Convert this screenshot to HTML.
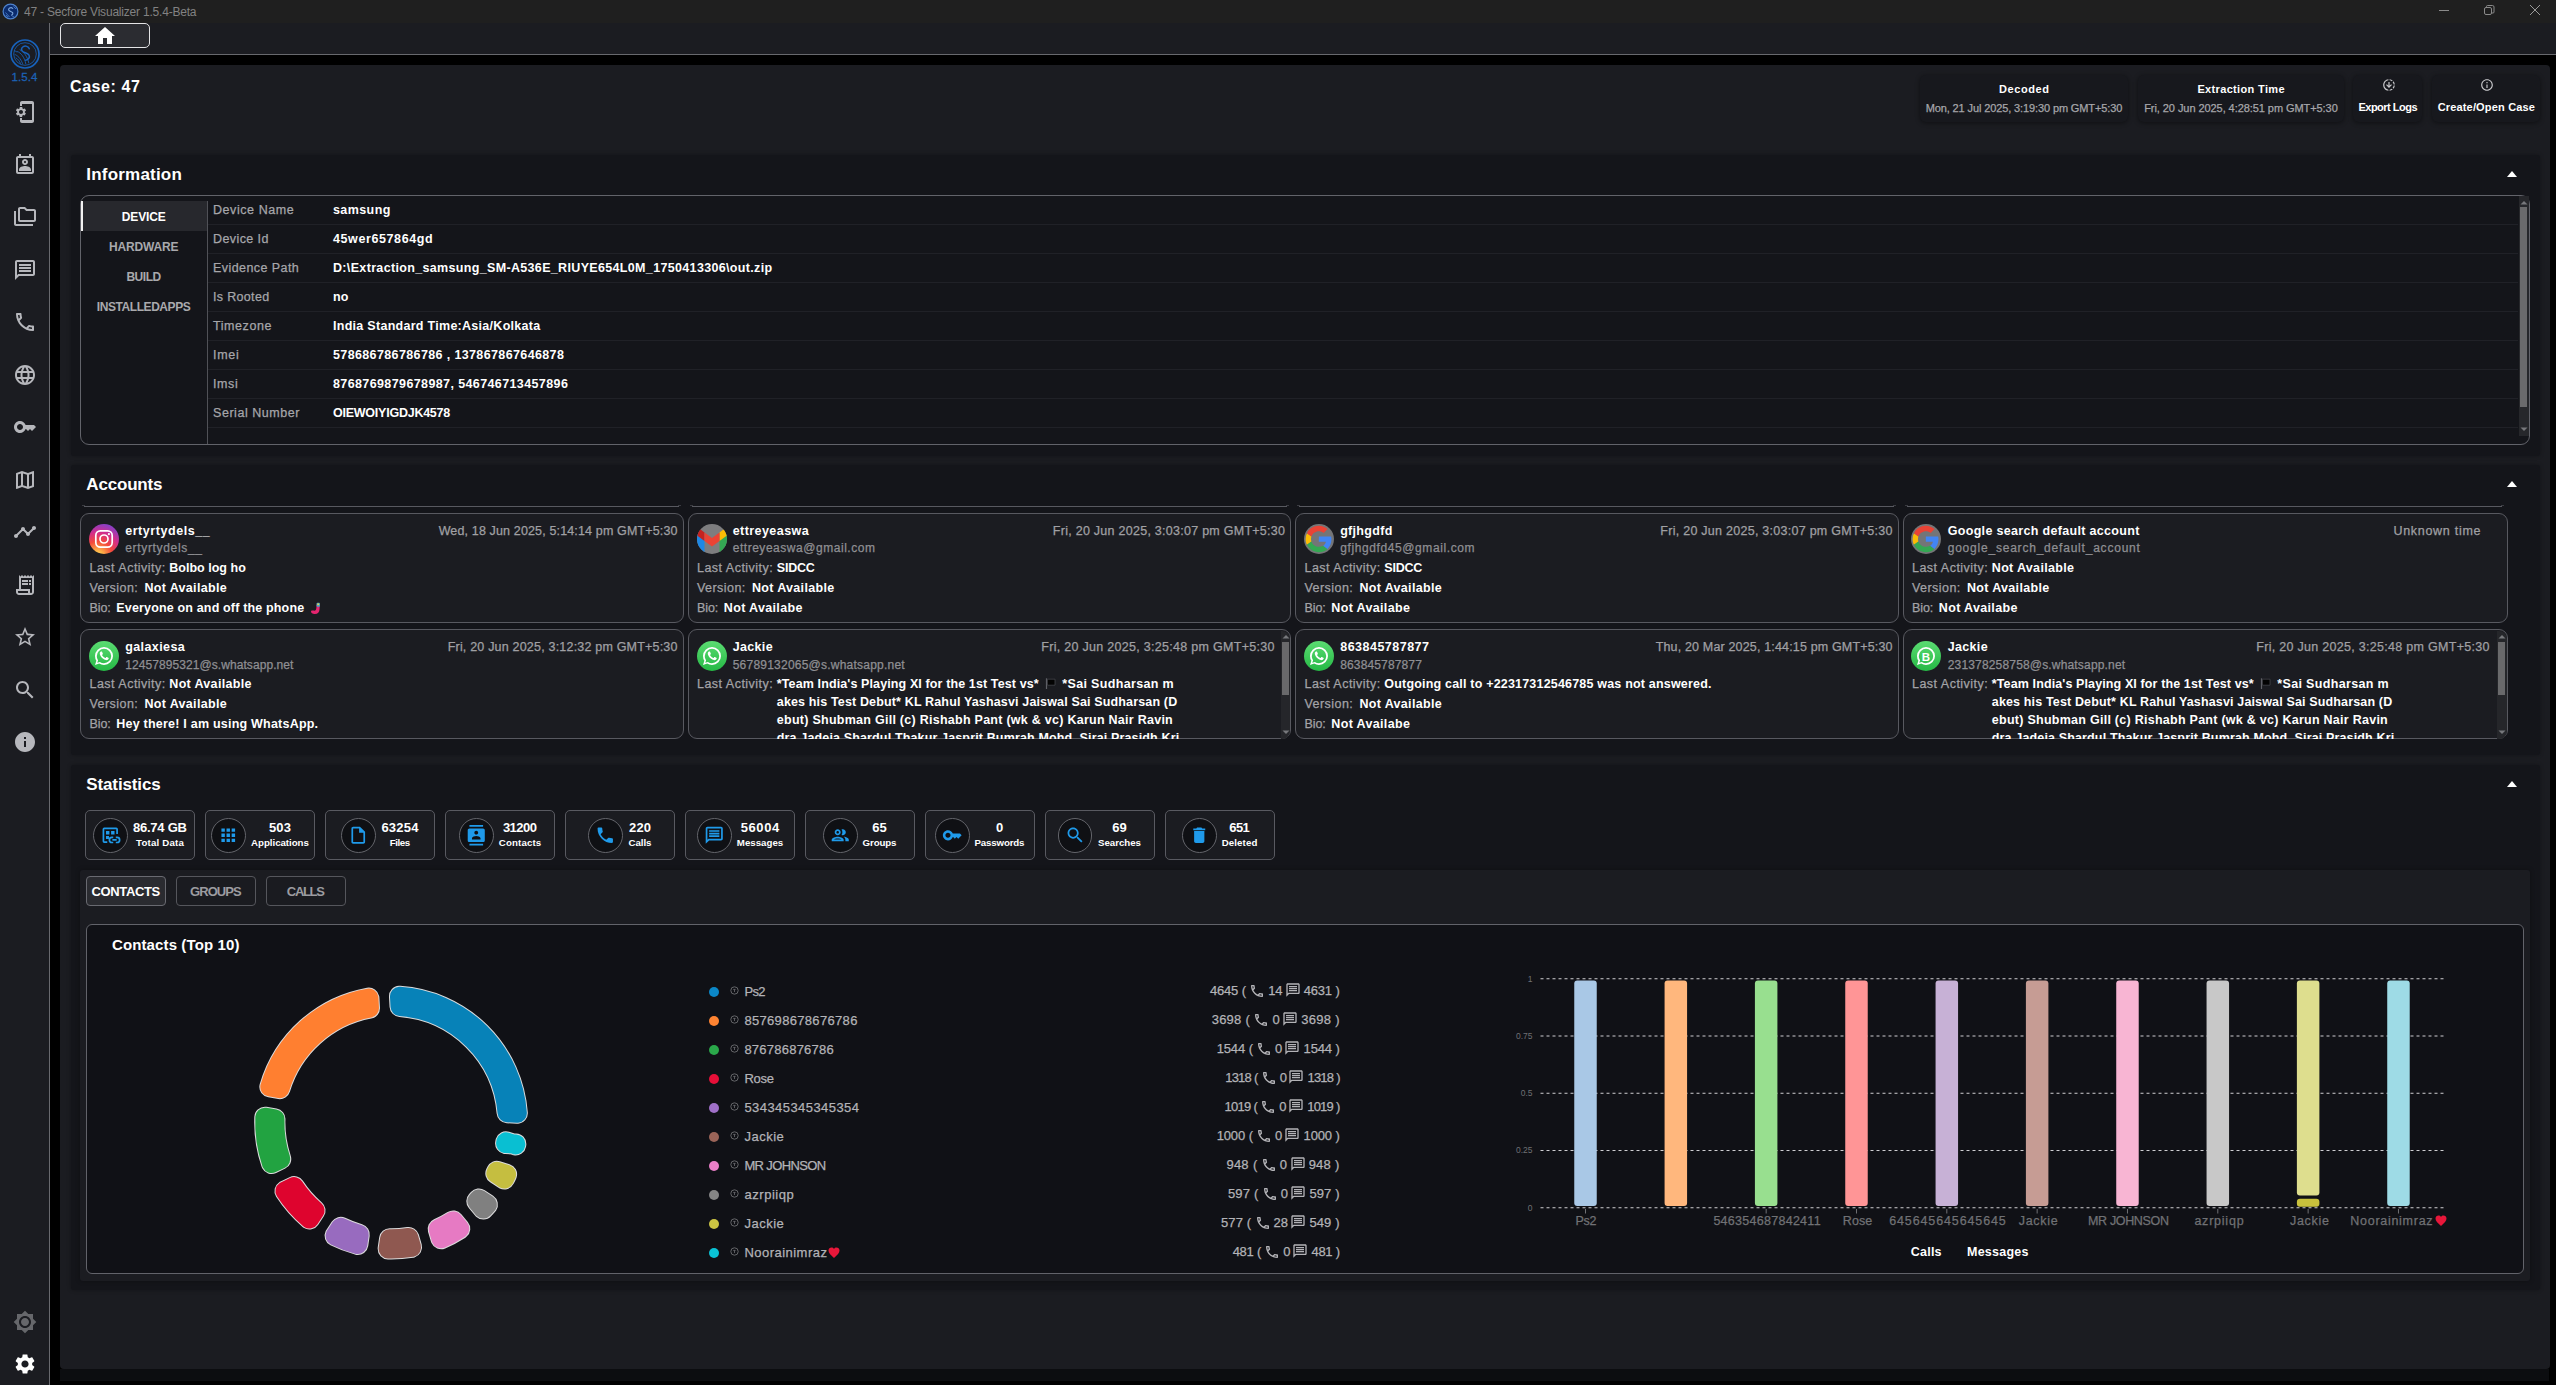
<!DOCTYPE html>
<html lang="en"><head><meta charset="utf-8"><title>47 - Secfore Visualizer 1.5.4-Beta</title>
<style>
html,body{margin:0;padding:0;background:#000;}
body{width:2556px;height:1385px;position:relative;overflow:hidden;font-family:"Liberation Sans", sans-serif;}
.a{position:absolute;box-sizing:border-box;display:block;}
.t{position:absolute;white-space:pre;line-height:1;margin:0;padding:0;font-weight:400;}

</style></head><body>
<header aria-label="Title bar">
<div class="a" style="left:0px;top:0px;width:2556px;height:23px;background:#1f1f1f;"></div>
<svg class="a" style="left:2px;top:2.5px;" width="17" height="17" viewBox="0 0 17 17"><circle cx="8.500" cy="8.500" r="7.400" fill="#0b2c6e" stroke="#4f83cc" stroke-width="1.200"/><path d="M11 5.800C10.300 4.700 8.700 4.400 7.600 5 6.500 5.600 6.300 6.900 7.200 7.700 8.100 8.500 9.900 8.500 10.600 9.600 11.300 10.700 10.400 12.100 9 12.200" fill="none" stroke="#7fa8dc" stroke-width="1.100"/><path d="M3.500 9.500l4 4.500M4 12l2 2.200M11.500 3.500l2.500 2.500M10 12.800l2 1.200" stroke="#4f83cc" stroke-width=".8"/></svg>
<span class="t" style="left:24.00px;top:5.84px;font-size:12px;color:#828282;-webkit-text-stroke:.25px #828282;letter-spacing:-0.203px;-webkit-text-stroke:0;">47 - Secfore Visualizer 1.5.4-Beta</span>
<div class="a" style="left:2439px;top:10px;width:10px;height:1px;background:#8a8a8a;"></div>
<svg class="a" style="left:2483px;top:4px;" width="12" height="12" viewBox="0 0 12 12"><rect x="1.500" y="3.500" width="7" height="7" rx="1.500" fill="none" stroke="#8a8a8a" stroke-width="1"/><path d="M3.500 3.500V2.500a1 1 0 0 1 1-1H9.500a1.500 1.500 0 0 1 1.500 1.500V8a1 1 0 0 1-1 1H8.500" fill="none" stroke="#8a8a8a" stroke-width="1"/></svg>
<svg class="a" style="left:2529px;top:4px;" width="12" height="12" viewBox="0 0 12 12"><path d="M1 1L11 11M11 1L1 11" stroke="#9a9a9a" stroke-width="1" fill="none"/></svg>
</header>
<nav aria-label="Sidebar and toolbar">
<div class="a" style="left:0px;top:23px;width:50px;height:1362px;background:#1b1c21;border-right:1px solid #68696e;"></div>
<div class="a" style="left:50px;top:23px;width:2506px;height:32px;background:#1b1c21;border-bottom:1px solid #68696e;"></div>
<div class="a" style="left:60px;top:23px;width:90px;height:25px;background:#2b2c31;border:1px solid #e4e4e6;border-radius:5px;"></div>
<svg class="a" style="left:93.00px;top:24.00px;" width="24" height="24" viewBox="0 0 24 24"><path fill="#fff" d="M10 20v-6h4v6h5v-8h3L12 3 2 12h3v8z"/></svg>
<svg class="a" style="left:8px;top:37px;" width="34" height="34" viewBox="0 0 34 34"><circle cx="17" cy="17" r="14" fill="none" stroke="#1862bb" stroke-width="1.700"/>
<circle cx="17" cy="17" r="11.300" fill="none" stroke="#1862bb" stroke-width=".8"/>
<path d="M21.300 11.800C20.400 9.300 17.400 8.500 15.300 9.600 13.300 10.700 12.900 13.100 14.700 14.500 16.500 15.900 19.800 16 21 18.100 22.200 20.200 20.500 23 17.600 23.200" fill="none" stroke="#1862bb" stroke-width="1.500" stroke-linecap="round"/>
<path d="M7 17.500C9.500 18.500 12.500 21 14.500 26.500M8 21C10 22 11.500 24 12.500 26.500M9.500 14.500C13 16 16.500 20 17.800 26.800M12 12.800C16 15 19.500 19.500 20.800 26M6.500 13.800C7.500 14 8.500 14.500 9 15" stroke="#1862bb" stroke-width=".85" fill="none" stroke-linecap="round"/></svg>
<span class="t" style="left:11.54px;top:72.07px;font-size:11.5px;color:#1c62b6;-webkit-text-stroke:.25px #1c62b6;letter-spacing:0.084px;-webkit-text-stroke:.3px #1c62b6;">1.5.4</span>
<svg class="a" style="left:12.50px;top:100.00px;" width="24" height="24" viewBox="0 0 24 24"><path fill="#b6b7bc" d="M11.8 12.5v-1l1.1-.8c.1-.1.1-.2.1-.3l-1-1.7c-.1-.1-.2-.2-.3-.1l-1.3.4c-.3-.2-.6-.4-.9-.5l-.2-1.3c0-.1-.1-.2-.3-.2H7c-.1 0-.2.1-.3.2l-.2 1.3c-.3.1-.6.3-.9.5l-1.3-.5c-.1 0-.2 0-.3.1l-1 1.7c-.1.1 0 .2.1.3l1.100.8v1l-1.100.8c-.1.2-.1.3-.1.4l1 1.7c.1.1.2.1.3.1l1.200-.5c.3.2.6.4.9.5l.2 1.300c.1.1.2.2.3.2h2c.1 0 .2-.1.3-.2l.2-1.300c.3-.1.6-.3.9-.5l1.200.5c.1 0 .2 0 .3-.1l1-1.700c.1-.1.1-.2 0-.3l-1.100-.8zM8 14c-1.100 0-2-.9-2-2s.9-2 2-2 2 .9 2 2-.9 2-2 2zM19 1H9c-1.100 0-2 .9-2 2v3h2V4h10v16H9v-2H7v3c0 1.100.9 2 2 2h10c1.100 0 2-.9 2-2V3c0-1.100-.9-2-2-2z"/></svg>
<svg class="a" style="left:12.50px;top:152.60px;" width="24" height="24" viewBox="0 0 24 24"><path fill="#b6b7bc" d="M19 3h-1V1h-2v2H8V1H6v2H5c-1.1 0-2 .9-2 2v14c0 1.1.9 2 2 2h14c1.1 0 2-.9 2-2V5c0-1.1-.9-2-2-2zm0 16H5V5h14v14zM12 12c1.650 0 3-1.350 3-3s-1.350-3-3-3-3 1.350-3 3 1.350 3 3 3zm0-4c.55 0 1 .45 1 1s-.45 1-1 1-1-.45-1-1 .45-1 1-1zm6 8.580c0-2.500-3.970-3.580-6-3.580s-6 1.080-6 3.580V18h12v-1.420z"/></svg>
<svg class="a" style="left:12.50px;top:204.80px;" width="24" height="24" viewBox="0 0 24 24"><path fill="#b6b7bc" d="M3 19h17v2H3c-1.1 0-2-.9-2-2V6h2v13zM23 6v9c0 1.1-.9 2-2 2H7c-1.1 0-2-.9-2-2l.01-11c0-1.1.89-2 1.990-2h5l2 2h7c1.100 0 2 .9 2 2zM7 15h14V6h-7.830l-2-2H7v11z"/></svg>
<svg class="a" style="left:12.50px;top:257.60px;" width="24" height="24" viewBox="0 0 24 24"><path fill="#b6b7bc" d="M4 4h16v12H5.170L4 17.170V4m0-2c-1.100 0-1.990.9-1.990 2L2 22l4-4h14c1.100 0 2-.9 2-2V4c0-1.100-.9-2-2-2H4zm2 10h12v2H6v-2zm0-3h12v2H6V9zm0-3h12v2H6V6z"/></svg>
<svg class="a" style="left:12.50px;top:310.00px;" width="24" height="24" viewBox="0 0 24 24"><path fill="#b6b7bc" d="M6.540 5c.06.890.210 1.760.450 2.590l-1.200 1.200c-.410-1.200-.670-2.470-.760-3.790h1.510m9.860 12.020c.850.240 1.720.390 2.600.450v1.490c-1.320-.09-2.590-.350-3.800-.750l1.200-1.190M7.500 3H4c-.55 0-1 .45-1 1 0 9.390 7.610 17 17 17 .55 0 1-.45 1-1v-3.490c0-.55-.45-1-1-1-1.240 0-2.450-.2-3.570-.57-.1-.04-.21-.05-.31-.05-.26 0-.51.1-.71.29l-2.200 2.200c-2.830-1.450-5.150-3.760-6.590-6.590l2.200-2.200c.28-.28.36-.67.25-1.020C8.700 6.450 8.500 5.250 8.500 4c0-.55-.45-1-1-1z"/></svg>
<svg class="a" style="left:12.50px;top:363.00px;" width="24" height="24" viewBox="0 0 24 24"><path fill="#b6b7bc" d="M11.990 2C6.470 2 2 6.480 2 12s4.470 10 9.990 10C17.520 22 22 17.520 22 12S17.520 2 11.990 2zm6.930 6h-2.950c-.32-1.250-.78-2.450-1.380-3.560 1.840.63 3.370 1.910 4.330 3.560zM12 4.040c.83 1.200 1.480 2.530 1.910 3.960h-3.820c.43-1.430 1.080-2.760 1.910-3.960zM4.260 14C4.100 13.360 4 12.690 4 12s.1-1.360.26-2h3.380c-.08.66-.14 1.320-.14 2 0 .68.06 1.340.14 2H4.260zm.82 2h2.950c.32 1.250.78 2.450 1.380 3.560-1.840-.63-3.370-1.900-4.330-3.560zm2.950-8H5.080c.96-1.660 2.490-2.930 4.330-3.560C8.810 5.550 8.350 6.750 8.030 8zM12 19.960c-.83-1.200-1.480-2.530-1.910-3.960h3.820c-.43 1.430-1.080 2.760-1.910 3.960zM14.340 14H9.660c-.09-.66-.16-1.320-.16-2 0-.68.07-1.350.16-2h4.680c.09.65.16 1.320.16 2 0 .68-.07 1.340-.16 2zm.25 5.560c.6-1.110 1.060-2.310 1.380-3.560h2.950c-.96 1.650-2.490 2.930-4.330 3.560zM16.360 14c.08-.66.14-1.320.14-2 0-.68-.06-1.340-.14-2h3.380c.16.64.26 1.310.26 2s-.1 1.360-.26 2h-3.380z"/></svg>
<svg class="a" style="left:12.50px;top:415.00px;" width="24" height="24" viewBox="0 0 24 24"><path fill="#b6b7bc" d="M21 10h-8.350C11.830 7.670 9.610 6 7 6c-3.310 0-6 2.690-6 6s2.690 6 6 6c2.610 0 4.830-1.670 5.650-4H13l2 2 2-2 2 2 4-4.040L21 10zM7 15c-1.650 0-3-1.350-3-3s1.350-3 3-3 3 1.350 3 3-1.350 3-3 3z"/></svg>
<svg class="a" style="left:12.50px;top:468.00px;" width="24" height="24" viewBox="0 0 24 24"><path fill="#b6b7bc" d="M20.500 3l-.160.030L15 5.100 9 3 3.360 4.900c-.21.07-.36.25-.36.480V20.500c0 .280.220.5.5.5l.160-.030L9 18.900l6 2.100 5.640-1.900c.21-.07.36-.25.36-.480V3.500c0-.280-.220-.5-.5-.5zM10 5.470l4 1.400v11.660l-4-1.400V5.470zm-5 .990l3-1.010v11.700l-3 1.160V6.460zm14 11.080l-3 1.010V6.860l3-1.160v11.840z"/></svg>
<svg class="a" style="left:12.50px;top:519.60px;" width="24" height="24" viewBox="0 0 24 24"><path fill="#b6b7bc" d="M23 8c0 1.100-.9 2-2 2-.18 0-.35-.02-.51-.07l-3.560 3.550c.05.16.07.34.07.52 0 1.100-.9 2-2 2s-2-.9-2-2c0-.18.02-.36.07-.52l-2.550-2.550c-.16.05-.34.07-.52.07s-.36-.02-.52-.07l-4.550 4.560c.05.160.07.330.07.510 0 1.100-.9 2-2 2s-2-.9-2-2 .9-2 2-2c.18 0 .35.02.51.07l4.560-4.550C8.020 9.360 8 9.180 8 9c0-1.100.9-2 2-2s2 .9 2 2c0 .18-.02.36-.07.52l2.550 2.550c.16-.05.34-.07.52-.07s.36.02.52.07l3.550-3.560C19.020 8.350 19 8.180 19 8c0-1.100.9-2 2-2s2 .9 2 2z"/></svg>
<svg class="a" style="left:12.50px;top:573.00px;" width="24" height="24" viewBox="0 0 24 24"><path fill="#b6b7bc" d="M19.500 3.500L18 2l-1.500 1.500L15 2l-1.500 1.500L12 2l-1.500 1.500L9 2 7.500 3.500 6 2v14H3v3c0 1.660 1.340 3 3 3h12c1.660 0 3-1.340 3-3V2l-1.500 1.500zM15 20H6c-.55 0-1-.45-1-1v-1h10v2zm4-1c0 .55-.45 1-1 1s-1-.45-1-1v-3H8V5h11v14zM9 7h6v2H9zM16 7h2v2h-2zM9 10h6v2H9zM16 10h2v2h-2z"/></svg>
<svg class="a" style="left:12.50px;top:624.80px;" width="24" height="24" viewBox="0 0 24 24"><path fill="#b6b7bc" d="M22 9.240l-7.190-.62L12 2 9.190 8.630 2 9.240l5.460 4.730L5.820 21 12 17.270 18.180 21l-1.630-7.030L22 9.240zM12 15.400l-3.760 2.270 1-4.280-3.320-2.880 4.380-.38L12 6.100l1.710 4.040 4.380.38-3.320 2.880 1 4.280L12 15.400z"/></svg>
<svg class="a" style="left:12.50px;top:678.00px;" width="24" height="24" viewBox="0 0 24 24"><path fill="#b6b7bc" d="M15.500 14h-.79l-.28-.27C15.410 12.590 16 11.110 16 9.500 16 5.910 13.090 3 9.500 3S3 5.910 3 9.500 5.910 16 9.500 16c1.610 0 3.090-.59 4.230-1.570l.27.28v.79l5 4.990L20.490 19l-4.990-5zm-6 0C7.010 14 5 11.990 5 9.500S7.010 5 9.500 5 14 7.010 14 9.500 11.990 14 9.500 14z"/></svg>
<svg class="a" style="left:12.50px;top:730.00px;" width="24" height="24" viewBox="0 0 24 24"><path fill="#b6b7bc" d="M12 2C6.480 2 2 6.480 2 12s4.480 10 10 10 10-4.480 10-10S17.520 2 12 2zm1 15h-2v-6h2v6zm0-8h-2V7h2v2z"/></svg>
<svg class="a" style="left:12.50px;top:1310.00px;" width="24" height="24" viewBox="0 0 24 24"><path fill="#66676b" d="M20 8.690V4h-4.690L12 .69 8.690 4H4v4.690L.69 12 4 15.310V20h4.690L12 23.310 15.310 20H20v-4.690L23.310 12 20 8.690zM12 18c-3.310 0-6-2.690-6-6s2.690-6 6-6 6 2.690 6 6-2.690 6-6 6zm0-10c-2.210 0-4 1.790-4 4s1.790 4 4 4 4-1.790 4-4-1.790-4-4-4z"/></svg>
<svg class="a" style="left:12.50px;top:1352.00px;" width="24" height="24" viewBox="0 0 24 24"><path fill="#ffffff" d="M19.140 12.940c.04-.3.060-.61.060-.94 0-.32-.02-.64-.07-.94l2.030-1.580c.18-.14.23-.41.120-.61l-1.920-3.320c-.12-.22-.37-.29-.59-.22l-2.390.96c-.5-.38-1.030-.7-1.620-.94l-.36-2.540c-.04-.24-.24-.41-.48-.41h-3.840c-.24 0-.43.17-.47.41l-.36 2.540c-.59.24-1.130.57-1.620.94l-2.390-.96c-.22-.08-.47 0-.59.22L2.740 8.870c-.12.21-.08.47.12.61l2.030 1.580c-.05.3-.09.63-.09.94s.02.64.07.94l-2.030 1.580c-.18.14-.23.41-.12.61l1.920 3.320c.12.22.37.29.59.22l2.390-.96c.5.38 1.030.7 1.620.94l.36 2.540c.05.24.24.41.48.41h3.840c.24 0 .44-.17.47-.41l.36-2.540c.59-.24 1.130-.56 1.620-.94l2.390.96c.22.08.47 0 .59-.22l1.920-3.320c.12-.22.07-.47-.12-.61l-2.010-1.580zM12 15.600c-1.980 0-3.600-1.620-3.600-3.600s1.620-3.600 3.600-3.600 3.600 1.620 3.600 3.600-1.620 3.600-3.600 3.600z"/></svg>
</nav>
<main>
<div class="a" style="left:60px;top:1369px;width:2489px;height:12px;background:#0c0d10;"></div>
<div class="a" style="left:60px;top:65px;width:2490px;height:1304px;background:#1b1c21;border-radius:4px;"></div>
<span class="t" style="left:70.00px;top:79.26px;font-size:16px;color:#fff;font-weight:700;letter-spacing:0.571px;">Case: 47</span>
<div class="a" style="left:71px;top:155px;width:2469px;height:301px;background:#14151a;border-radius:3px;box-shadow:0 0 4px rgba(0,0,0,.3);"></div>
<div class="a" style="left:71px;top:465px;width:2469px;height:290px;background:#14151a;border-radius:3px;box-shadow:0 0 4px rgba(0,0,0,.3);"></div>
<div class="a" style="left:71px;top:765px;width:2469px;height:525px;background:#14151a;border-radius:3px;box-shadow:0 0 4px rgba(0,0,0,.3);"></div>
<span class="t" style="left:86.30px;top:165.61px;font-size:17px;color:#fff;font-weight:700;letter-spacing:0.205px;">Information</span>
<span class="t" style="left:86.30px;top:476.11px;font-size:17px;color:#fff;font-weight:700;letter-spacing:-0.184px;">Accounts</span>
<span class="t" style="left:86.30px;top:775.61px;font-size:17px;color:#fff;font-weight:700;letter-spacing:-0.134px;">Statistics</span>
<svg class="a" style="left:2507px;top:171px;" width="10" height="6" viewBox="0 0 10 6"><path d="M0 6L5 0L10 6z" fill="#fff"/></svg>
<svg class="a" style="left:2507px;top:481px;" width="10" height="6" viewBox="0 0 10 6"><path d="M0 6L5 0L10 6z" fill="#fff"/></svg>
<svg class="a" style="left:2507px;top:781px;" width="10" height="6" viewBox="0 0 10 6"><path d="M0 6L5 0L10 6z" fill="#fff"/></svg>
<section aria-label="Case header">
<div class="a" style="left:1920px;top:75px;width:208px;height:47px;background:#17181d;border-radius:6px;box-shadow:0 1px 5px rgba(0,0,0,.45);"></div>
<div class="a" style="left:2138px;top:75px;width:206px;height:47px;background:#17181d;border-radius:6px;box-shadow:0 1px 5px rgba(0,0,0,.45);"></div>
<div class="a" style="left:2353px;top:75px;width:69px;height:47px;background:#17181d;border-radius:6px;box-shadow:0 1px 5px rgba(0,0,0,.45);"></div>
<div class="a" style="left:2432px;top:75px;width:108px;height:47px;background:#17181d;border-radius:6px;box-shadow:0 1px 5px rgba(0,0,0,.45);"></div>
<span class="t" style="left:1998.93px;top:84.29px;font-size:11px;color:#fff;font-weight:700;letter-spacing:0.612px;">Decoded</span>
<span class="t" style="left:1925.69px;top:103.39px;font-size:11px;color:#a6a6aa;-webkit-text-stroke:.25px #a6a6aa;letter-spacing:-0.118px;">Mon, 21 Jul 2025, 3:19:30 pm GMT+5:30</span>
<span class="t" style="left:2197.42px;top:84.29px;font-size:11px;color:#fff;font-weight:700;letter-spacing:0.345px;">Extraction Time</span>
<span class="t" style="left:2144.22px;top:103.39px;font-size:11px;color:#a6a6aa;-webkit-text-stroke:.25px #a6a6aa;letter-spacing:-0.067px;">Fri, 20 Jun 2025, 4:28:51 pm GMT+5:30</span>
<svg class="a" style="left:2381.50px;top:78.30px;" width="14" height="14" viewBox="0 0 24 24"><path fill="#c9c9cc" d="M18.320 4.260C16.840 3.050 15.010 2.250 13 2.050v2.020c1.460.18 2.790.76 3.900 1.620l1.420-1.430zM19.930 11h2.020c-.2-2.010-1-3.840-2.210-5.320L18.310 7.100c.86 1.110 1.440 2.440 1.620 3.900zM18.310 16.900l1.430 1.430c1.210-1.480 2.010-3.320 2.210-5.320h-2.020c-.18 1.450-.76 2.780-1.620 3.890zM13 19.930v2.020c2.010-.2 3.840-1 5.320-2.210l-1.430-1.430c-1.100.86-2.430 1.440-3.890 1.620zM15.590 10.590L13 13.170V7h-2v6.170l-2.590-2.590L7 12l5 5 5-5-1.410-1.410zM11 19.930v2.020c-5.050-.5-9-4.760-9-9.950s3.950-9.450 9-9.950v2.020C7.050 4.560 4 7.920 4 12s3.050 7.440 7 7.930z"/></svg>
<span class="t" style="left:2358.49px;top:102.29px;font-size:11px;color:#fff;font-weight:700;letter-spacing:-0.516px;">Export Logs</span>
<svg class="a" style="left:2479.50px;top:78.30px;" width="14" height="14" viewBox="0 0 24 24"><path fill="#c9c9cc" d="M11 7h2v2h-2zm0 4h2v6h-2zm1-9C6.480 2 2 6.480 2 12s4.480 10 10 10 10-4.480 10-10S17.520 2 12 2zm0 18c-4.410 0-8-3.590-8-8s3.590-8 8-8 8 3.590 8 8-3.590 8-8 8z"/></svg>
<span class="t" style="left:2437.64px;top:102.29px;font-size:11px;color:#fff;font-weight:700;letter-spacing:0.171px;">Create/Open Case</span>
</section>
<section aria-label="Information">
<div class="a" style="left:80px;top:195px;width:2450px;height:250px;background:#14151a;border:1px solid #62636a;border-radius:9px;"></div>
<div class="a" style="left:81px;top:201px;width:126px;height:30px;background:#27282d;"></div>
<div class="a" style="left:81px;top:201px;width:2px;height:30px;background:#f2f2f2;"></div>
<div class="a" style="left:207px;top:201px;width:1px;height:243px;background:#505157;"></div>
<span class="t" style="left:121.85px;top:210.74px;font-size:12px;color:#fff;font-weight:700;letter-spacing:-0.156px;">DEVICE</span>
<span class="t" style="left:108.98px;top:241.04px;font-size:12px;color:#a9a9ad;font-weight:700;letter-spacing:-0.146px;">HARDWARE</span>
<span class="t" style="left:126.43px;top:271.04px;font-size:12px;color:#a9a9ad;font-weight:700;letter-spacing:-0.484px;">BUILD</span>
<span class="t" style="left:96.83px;top:301.04px;font-size:12px;color:#a9a9ad;font-weight:700;letter-spacing:-0.433px;">INSTALLEDAPPS</span>
<span class="t" style="left:213.00px;top:203.62px;font-size:12.5px;color:#a6a6aa;-webkit-text-stroke:.25px #a6a6aa;letter-spacing:0.565px;">Device Name</span>
<span class="t" style="left:333.00px;top:203.62px;font-size:12.5px;color:#fff;font-weight:700;letter-spacing:0.408px;">samsung</span>
<div class="a" style="left:208px;top:224px;width:2310px;height:1px;background:#202127;"></div>
<span class="t" style="left:213.00px;top:232.62px;font-size:12.5px;color:#a6a6aa;-webkit-text-stroke:.25px #a6a6aa;letter-spacing:0.405px;">Device Id</span>
<span class="t" style="left:333.00px;top:232.62px;font-size:12.5px;color:#fff;font-weight:700;letter-spacing:0.601px;">45wer657864gd</span>
<div class="a" style="left:208px;top:253px;width:2310px;height:1px;background:#202127;"></div>
<span class="t" style="left:213.00px;top:261.62px;font-size:12.5px;color:#a6a6aa;-webkit-text-stroke:.25px #a6a6aa;letter-spacing:0.434px;">Evidence Path</span>
<span class="t" style="left:333.00px;top:261.62px;font-size:12.5px;color:#fff;font-weight:700;letter-spacing:0.337px;">D:\Extraction_samsung_SM-A536E_RIUYE654L0M_1750413306\out.zip</span>
<div class="a" style="left:208px;top:282px;width:2310px;height:1px;background:#202127;"></div>
<span class="t" style="left:213.00px;top:290.62px;font-size:12.5px;color:#a6a6aa;-webkit-text-stroke:.25px #a6a6aa;letter-spacing:0.332px;">Is Rooted</span>
<span class="t" style="left:333.00px;top:290.62px;font-size:12.5px;color:#fff;font-weight:700;letter-spacing:0.234px;">no</span>
<div class="a" style="left:208px;top:311px;width:2310px;height:1px;background:#202127;"></div>
<span class="t" style="left:213.00px;top:319.62px;font-size:12.5px;color:#a6a6aa;-webkit-text-stroke:.25px #a6a6aa;letter-spacing:0.572px;">Timezone</span>
<span class="t" style="left:333.00px;top:319.62px;font-size:12.5px;color:#fff;font-weight:700;letter-spacing:0.283px;">India Standard Time:Asia/Kolkata</span>
<div class="a" style="left:208px;top:340px;width:2310px;height:1px;background:#202127;"></div>
<span class="t" style="left:213.00px;top:348.62px;font-size:12.5px;color:#a6a6aa;-webkit-text-stroke:.25px #a6a6aa;letter-spacing:0.719px;">Imei</span>
<span class="t" style="left:333.00px;top:348.62px;font-size:12.5px;color:#fff;font-weight:700;letter-spacing:0.372px;">578686786786786 , 137867867646878</span>
<div class="a" style="left:208px;top:369px;width:2310px;height:1px;background:#202127;"></div>
<span class="t" style="left:213.00px;top:377.62px;font-size:12.5px;color:#a6a6aa;-webkit-text-stroke:.25px #a6a6aa;letter-spacing:0.582px;">Imsi</span>
<span class="t" style="left:333.00px;top:377.62px;font-size:12.5px;color:#fff;font-weight:700;letter-spacing:0.387px;">8768769879678987, 546746713457896</span>
<div class="a" style="left:208px;top:398px;width:2310px;height:1px;background:#202127;"></div>
<span class="t" style="left:213.00px;top:406.62px;font-size:12.5px;color:#a6a6aa;-webkit-text-stroke:.25px #a6a6aa;letter-spacing:0.547px;">Serial Number</span>
<span class="t" style="left:333.00px;top:406.62px;font-size:12.5px;color:#fff;font-weight:700;letter-spacing:-0.242px;">OIEWOIYIGDJK4578</span>
<div class="a" style="left:208px;top:427px;width:2310px;height:1px;background:#202127;"></div>
<div class="a" style="left:2519px;top:196px;width:10px;height:240px;background:#26272b;"></div>
<div class="a" style="left:2520px;top:207px;width:7px;height:200px;background:#6a6a6c;"></div>
<svg class="a" style="left:2520px;top:200px;" width="8" height="5" viewBox="0 0 8 5"><path d="M0.500 4.500L4 1L7.500 4.500z" fill="#77787c"/></svg>
<svg class="a" style="left:2520px;top:427px;" width="8" height="5" viewBox="0 0 8 5"><path d="M0.500 0.500L4 4L7.500 0.500z" fill="#77787c"/></svg>
</section>
<section aria-label="Accounts">
<div class="a" style="left:84px;top:506px;width:595px;height:1px;background:#585960;"></div>
<div class="a" style="left:82px;top:505px;width:3px;height:1px;background:#3a3b41;"></div>
<div class="a" style="left:678px;top:505px;width:3px;height:1px;background:#3a3b41;"></div>
<div class="a" style="left:692px;top:506px;width:595px;height:1px;background:#585960;"></div>
<div class="a" style="left:690px;top:505px;width:3px;height:1px;background:#3a3b41;"></div>
<div class="a" style="left:1286px;top:505px;width:3px;height:1px;background:#3a3b41;"></div>
<div class="a" style="left:1299px;top:506px;width:595px;height:1px;background:#585960;"></div>
<div class="a" style="left:1297px;top:505px;width:3px;height:1px;background:#3a3b41;"></div>
<div class="a" style="left:1893px;top:505px;width:3px;height:1px;background:#3a3b41;"></div>
<div class="a" style="left:1907px;top:506px;width:595px;height:1px;background:#585960;"></div>
<div class="a" style="left:1905px;top:505px;width:3px;height:1px;background:#3a3b41;"></div>
<div class="a" style="left:2501px;top:505px;width:3px;height:1px;background:#3a3b41;"></div>
<div class="a" style="left:80px;top:513px;width:604px;height:110px;background:#1b1c21;border:1px solid #585960;border-radius:9px;"></div>
<svg class="a" style="left:89px;top:524px" width="30" height="30" viewBox="0 0 30 30">
<defs><radialGradient id="ig" cx="0.3" cy="1.05" r="1.25"><stop offset="0" stop-color="#fdd86a"/><stop offset=".12" stop-color="#fdb748"/><stop offset=".38" stop-color="#f3493b"/><stop offset=".62" stop-color="#d32d8b"/><stop offset=".85" stop-color="#8b3fc4"/><stop offset="1" stop-color="#4f5bd5"/></radialGradient></defs>
<circle cx="15" cy="15" r="15" fill="url(#ig)"/>
<rect x="6.800" y="6.800" width="16.400" height="16.400" rx="4.600" fill="none" stroke="#fff" stroke-width="1.700"/>
<circle cx="15" cy="15" r="4" fill="none" stroke="#fff" stroke-width="1.700"/><circle cx="19.900" cy="10.100" r="1.100" fill="#fff"/></svg>
<span class="t" style="left:125.20px;top:524.92px;font-size:12.5px;color:#fff;font-weight:700;letter-spacing:0.552px;">ertyrtydels__</span>
<span class="t" style="left:125.20px;top:542.04px;font-size:12px;color:#8f8f93;-webkit-text-stroke:.25px #8f8f93;letter-spacing:0.677px;">ertyrtydels__</span>
<span class="t" style="left:438.65px;top:524.92px;font-size:12.5px;color:#a0a0a4;-webkit-text-stroke:.25px #a0a0a4;letter-spacing:0.146px;">Wed, 18 Jun 2025, 5:14:14 pm GMT+5:30</span>
<span class="t" style="left:89.50px;top:561.82px;font-size:12.5px;color:#a3a3a7;-webkit-text-stroke:.25px #a3a3a7;letter-spacing:0.483px;">Last Activity:</span>
<span class="t" style="left:169.30px;top:561.82px;font-size:12.5px;color:#fff;font-weight:700;letter-spacing:0.010px;">Bolbo log ho</span>
<span class="t" style="left:89.50px;top:581.82px;font-size:12.5px;color:#a3a3a7;-webkit-text-stroke:.25px #a3a3a7;letter-spacing:0.447px;">Version:</span>
<span class="t" style="left:144.50px;top:581.82px;font-size:12.5px;color:#fff;font-weight:700;letter-spacing:0.326px;">Not Available</span>
<span class="t" style="left:89.50px;top:601.82px;font-size:12.5px;color:#a3a3a7;-webkit-text-stroke:.25px #a3a3a7;letter-spacing:-0.074px;">Bio:</span>
<span class="t" style="left:116.30px;top:601.82px;font-size:12.5px;color:#fff;font-weight:700;letter-spacing:0.161px;">Everyone on and off the phone</span>
<svg class="a" style="left:309.5px;top:601.5px;" width="11" height="13" viewBox="0 0 11 13"><path d="M1 9.500C1 8.500 2 8.300 3.500 8.600 5.500 9 6.200 8 6.400 5.500L6.600 2.500H9.800L9.600 7C9.400 10.500 7.500 12.200 4.500 12 2.500 11.900 1 11 1 9.500z" fill="#e6246f"/><rect x="6.600" y="0.800" width="3.300" height="4" rx=".8" fill="#3ea6c9"/><rect x="7.300" y="1.500" width="1.900" height="1.600" fill="#f4d03f"/></svg>
<div class="a" style="left:688px;top:513px;width:603px;height:110px;background:#1b1c21;border:1px solid #585960;border-radius:9px;"></div>
<svg class="a" style="left:697px;top:524px" width="30" height="30" viewBox="0 0 30 30">
<defs><clipPath id="gm712"><circle cx="15" cy="15" r="15"/></clipPath></defs>
<circle cx="15" cy="15" r="15" fill="#7d7d7f"/>
<g clip-path="url(#gm712)"><path d="M0 9v21h7.500V14.500z" fill="#1e88e5"/><path d="M30 9v21h-7.500V14.500z" fill="#34a853"/>
<path d="M0 5.500v6L7.500 17v-8.500L3.500 5.500C2 4.500 0 4 0 5.500z" fill="#c5221f"/><path d="M30 5.500v6L22.500 17v-8.500l4-3C28 4.500 30 4 30 5.500z" fill="#fbbc04"/>
<path d="M7.500 17V8.500L15 14l7.500-5.500V17L15 22.500z" fill="#ea4335"/></g></svg>
<span class="t" style="left:732.70px;top:524.92px;font-size:12.5px;color:#fff;font-weight:700;letter-spacing:0.438px;">ettreyeaswa</span>
<span class="t" style="left:732.70px;top:542.04px;font-size:12px;color:#8f8f93;-webkit-text-stroke:.25px #8f8f93;letter-spacing:0.535px;">ettreyeaswa@gmail.com</span>
<span class="t" style="left:1052.86px;top:524.92px;font-size:12.5px;color:#a0a0a4;-webkit-text-stroke:.25px #a0a0a4;letter-spacing:0.262px;">Fri, 20 Jun 2025, 3:03:07 pm GMT+5:30</span>
<span class="t" style="left:697.00px;top:561.82px;font-size:12.5px;color:#a3a3a7;-webkit-text-stroke:.25px #a3a3a7;letter-spacing:0.483px;">Last Activity:</span>
<span class="t" style="left:776.80px;top:561.82px;font-size:12.5px;color:#fff;font-weight:700;letter-spacing:-0.241px;">SIDCC</span>
<span class="t" style="left:697.00px;top:581.82px;font-size:12.5px;color:#a3a3a7;-webkit-text-stroke:.25px #a3a3a7;letter-spacing:0.447px;">Version:</span>
<span class="t" style="left:752.00px;top:581.82px;font-size:12.5px;color:#fff;font-weight:700;letter-spacing:0.326px;">Not Available</span>
<span class="t" style="left:697.00px;top:601.82px;font-size:12.5px;color:#a3a3a7;-webkit-text-stroke:.25px #a3a3a7;letter-spacing:-0.074px;">Bio:</span>
<span class="t" style="left:723.80px;top:601.82px;font-size:12.5px;color:#fff;font-weight:700;letter-spacing:0.350px;">Not Availabe</span>
<div class="a" style="left:1295px;top:513px;width:604px;height:110px;background:#1b1c21;border:1px solid #585960;border-radius:9px;"></div>
<svg class="a" style="left:1304px;top:524px" width="30" height="30" viewBox="0 0 30 30">
<circle cx="15" cy="15" r="15" fill="#747577"/>
<g transform="translate(1.500 1.500) scale(0.5625)"><path fill="#fbbc05" d="M9.800 24c0-1.520.25-2.980.7-4.360L2.620 13.600A23.470 23.470 0 0 0 .2 24c0 3.740.87 7.260 2.410 10.390l7.880-6.050A14.100 14.100 0 0 1 9.800 24z"/><path fill="#ea4335" d="M23.700 10.130c3.310 0 6.300 1.170 8.650 3.090l6.840-6.840C35.030 2.770 29.700.53 23.700.53 14.400.53 6.420 5.850 2.620 13.600l7.880 6.040c1.810-5.510 6.990-9.510 13.200-9.510z"/><path fill="#34a853" d="M23.700 37.870c-6.210 0-11.390-4-13.200-9.510l-7.880 6.040C6.420 42.150 14.400 47.470 23.700 47.470c5.730 0 11.210-2.040 15.310-5.860l-7.510-5.800c-2.120 1.330-4.780 2.060-7.800 2.060z"/><path fill="#4285f4" d="M46.150 24c0-1.390-.21-2.880-.53-4.270H23.700v9.070h12.610c-.63 3.090-2.340 5.470-4.810 7.010l7.510 5.800c4.310-4 7.140-9.960 7.140-17.610z"/></g></svg>
<span class="t" style="left:1340.20px;top:524.92px;font-size:12.5px;color:#fff;font-weight:700;letter-spacing:0.302px;">gfjhgdfd</span>
<span class="t" style="left:1340.20px;top:542.04px;font-size:12px;color:#8f8f93;-webkit-text-stroke:.25px #8f8f93;letter-spacing:0.604px;">gfjhgdfd45@gmail.com</span>
<span class="t" style="left:1660.36px;top:524.92px;font-size:12.5px;color:#a0a0a4;-webkit-text-stroke:.25px #a0a0a4;letter-spacing:0.262px;">Fri, 20 Jun 2025, 3:03:07 pm GMT+5:30</span>
<span class="t" style="left:1304.50px;top:561.82px;font-size:12.5px;color:#a3a3a7;-webkit-text-stroke:.25px #a3a3a7;letter-spacing:0.483px;">Last Activity:</span>
<span class="t" style="left:1384.30px;top:561.82px;font-size:12.5px;color:#fff;font-weight:700;letter-spacing:-0.241px;">SIDCC</span>
<span class="t" style="left:1304.50px;top:581.82px;font-size:12.5px;color:#a3a3a7;-webkit-text-stroke:.25px #a3a3a7;letter-spacing:0.447px;">Version:</span>
<span class="t" style="left:1359.50px;top:581.82px;font-size:12.5px;color:#fff;font-weight:700;letter-spacing:0.326px;">Not Available</span>
<span class="t" style="left:1304.50px;top:601.82px;font-size:12.5px;color:#a3a3a7;-webkit-text-stroke:.25px #a3a3a7;letter-spacing:-0.074px;">Bio:</span>
<span class="t" style="left:1331.30px;top:601.82px;font-size:12.5px;color:#fff;font-weight:700;letter-spacing:0.350px;">Not Availabe</span>
<div class="a" style="left:1903px;top:513px;width:605px;height:110px;background:#1b1c21;border:1px solid #585960;border-radius:9px;"></div>
<svg class="a" style="left:1911px;top:524px" width="30" height="30" viewBox="0 0 30 30">
<circle cx="15" cy="15" r="15" fill="#747577"/>
<g transform="translate(1.500 1.500) scale(0.5625)"><path fill="#fbbc05" d="M9.800 24c0-1.520.25-2.980.7-4.360L2.620 13.600A23.470 23.470 0 0 0 .2 24c0 3.740.87 7.260 2.410 10.390l7.880-6.050A14.100 14.100 0 0 1 9.800 24z"/><path fill="#ea4335" d="M23.700 10.130c3.310 0 6.300 1.170 8.650 3.090l6.840-6.840C35.030 2.770 29.700.53 23.700.53 14.400.53 6.420 5.850 2.620 13.600l7.880 6.040c1.810-5.510 6.990-9.510 13.200-9.510z"/><path fill="#34a853" d="M23.700 37.870c-6.210 0-11.390-4-13.200-9.510l-7.880 6.040C6.420 42.150 14.400 47.470 23.700 47.470c5.730 0 11.210-2.040 15.310-5.860l-7.510-5.800c-2.120 1.330-4.780 2.060-7.800 2.060z"/><path fill="#4285f4" d="M46.150 24c0-1.390-.21-2.880-.53-4.270H23.700v9.070h12.610c-.63 3.090-2.340 5.470-4.810 7.010l7.510 5.800c4.310-4 7.140-9.960 7.140-17.610z"/></g></svg>
<span class="t" style="left:1947.70px;top:524.92px;font-size:12.5px;color:#fff;font-weight:700;letter-spacing:0.321px;">Google search default account</span>
<span class="t" style="left:1947.70px;top:542.04px;font-size:12px;color:#8f8f93;-webkit-text-stroke:.25px #8f8f93;letter-spacing:0.788px;">google_search_default_account</span>
<span class="t" style="left:2393.42px;top:524.92px;font-size:12.5px;color:#a0a0a4;-webkit-text-stroke:.25px #a0a0a4;letter-spacing:0.716px;">Unknown time</span>
<span class="t" style="left:1912.00px;top:561.82px;font-size:12.5px;color:#a3a3a7;-webkit-text-stroke:.25px #a3a3a7;letter-spacing:0.483px;">Last Activity:</span>
<span class="t" style="left:1991.80px;top:561.82px;font-size:12.5px;color:#fff;font-weight:700;letter-spacing:0.326px;">Not Available</span>
<span class="t" style="left:1912.00px;top:581.82px;font-size:12.5px;color:#a3a3a7;-webkit-text-stroke:.25px #a3a3a7;letter-spacing:0.447px;">Version:</span>
<span class="t" style="left:1967.00px;top:581.82px;font-size:12.5px;color:#fff;font-weight:700;letter-spacing:0.326px;">Not Available</span>
<span class="t" style="left:1912.00px;top:601.82px;font-size:12.5px;color:#a3a3a7;-webkit-text-stroke:.25px #a3a3a7;letter-spacing:-0.074px;">Bio:</span>
<span class="t" style="left:1938.80px;top:601.82px;font-size:12.5px;color:#fff;font-weight:700;letter-spacing:0.350px;">Not Availabe</span>
<div class="a" style="left:80px;top:629px;width:604px;height:110px;background:#1b1c21;border:1px solid #585960;border-radius:9px;"></div>
<svg class="a" style="left:89px;top:640.5px" width="30" height="30" viewBox="0 0 30 30">
<defs><linearGradient id="wa104655" x1="0" y1="0" x2="0" y2="1"><stop offset="0" stop-color="#5bdc72"/><stop offset="1" stop-color="#25b845"/></linearGradient></defs>
<circle cx="15" cy="15" r="15" fill="url(#wa104655)"/><g transform="translate(4.200 4.200) scale(0.9)"><path fill="#fff" d="M16.750 13.960c.25.130.41.2.46.3.06.110.04.610-.21 1.180-.2.560-1.240 1.100-1.700 1.120-.46.020-.47.360-2.960-.730-2.490-1.090-3.990-3.750-4.110-3.920-.12-.17-.96-1.380-.92-2.610.05-1.220.69-1.800.95-2.040.24-.26.51-.29.68-.26h.47c.15 0 .36-.06.55.45l.69 1.870c.06.130.1.280.1.440l-.27.410-.39.420c-.12.120-.26.250-.12.500.12.260.62 1.090 1.320 1.780.91.880 1.710 1.170 1.950 1.300.24.140.39.120.54-.04l.81-.94c.19-.25.350-.19.580-.11l1.670.880M12 2a10 10 0 0 1 10 10 10 10 0 0 1-10 10c-1.970 0-3.800-.57-5.350-1.550L2 22l1.550-4.650A9.969 9.969 0 0 1 2 12 10 10 0 0 1 12 2m0 2a8 8 0 0 0-8 8c0 1.720.54 3.310 1.460 4.610L4.500 19.500l2.890-.96A7.950 7.950 0 0 0 12 20a8 8 0 0 0 8-8 8 8 0 0 0-8-8z"/></g></svg>
<span class="t" style="left:125.20px;top:641.42px;font-size:12.5px;color:#fff;font-weight:700;letter-spacing:0.411px;">galaxiesa</span>
<span class="t" style="left:125.20px;top:658.54px;font-size:12px;color:#8f8f93;-webkit-text-stroke:.25px #8f8f93;letter-spacing:0.075px;">12457895321@s.whatsapp.net</span>
<span class="t" style="left:447.70px;top:641.42px;font-size:12.5px;color:#a0a0a4;-webkit-text-stroke:.25px #a0a0a4;letter-spacing:0.197px;">Fri, 20 Jun 2025, 3:12:32 pm GMT+5:30</span>
<span class="t" style="left:89.50px;top:678.32px;font-size:12.5px;color:#a3a3a7;-webkit-text-stroke:.25px #a3a3a7;letter-spacing:0.483px;">Last Activity:</span>
<span class="t" style="left:169.30px;top:678.32px;font-size:12.5px;color:#fff;font-weight:700;letter-spacing:0.326px;">Not Available</span>
<span class="t" style="left:89.50px;top:698.32px;font-size:12.5px;color:#a3a3a7;-webkit-text-stroke:.25px #a3a3a7;letter-spacing:0.447px;">Version:</span>
<span class="t" style="left:144.50px;top:698.32px;font-size:12.5px;color:#fff;font-weight:700;letter-spacing:0.326px;">Not Available</span>
<span class="t" style="left:89.50px;top:718.32px;font-size:12.5px;color:#a3a3a7;-webkit-text-stroke:.25px #a3a3a7;letter-spacing:-0.074px;">Bio:</span>
<span class="t" style="left:116.30px;top:718.32px;font-size:12.5px;color:#fff;font-weight:700;letter-spacing:0.220px;">Hey there! I am using WhatsApp.</span>
<div class="a" style="left:688px;top:629px;width:603px;height:110px;background:#1b1c21;border:1px solid #585960;border-radius:9px;"></div>
<svg class="a" style="left:697px;top:640.5px" width="30" height="30" viewBox="0 0 30 30">
<defs><linearGradient id="wa712655" x1="0" y1="0" x2="0" y2="1"><stop offset="0" stop-color="#5bdc72"/><stop offset="1" stop-color="#25b845"/></linearGradient></defs>
<circle cx="15" cy="15" r="15" fill="url(#wa712655)"/><g transform="translate(4.200 4.200) scale(0.9)"><path fill="#fff" d="M16.750 13.960c.25.130.41.2.46.3.06.110.04.610-.21 1.180-.2.560-1.240 1.100-1.700 1.120-.46.020-.47.360-2.960-.730-2.490-1.090-3.990-3.750-4.110-3.920-.12-.17-.96-1.380-.92-2.610.05-1.220.69-1.800.95-2.040.24-.26.51-.29.68-.26h.47c.15 0 .36-.06.55.45l.69 1.870c.06.130.1.280.1.440l-.27.410-.39.420c-.12.120-.26.250-.12.500.12.260.62 1.090 1.320 1.780.91.880 1.710 1.170 1.950 1.300.24.140.39.120.54-.04l.81-.94c.19-.25.350-.19.580-.11l1.670.880M12 2a10 10 0 0 1 10 10 10 10 0 0 1-10 10c-1.970 0-3.800-.57-5.350-1.550L2 22l1.550-4.650A9.969 9.969 0 0 1 2 12 10 10 0 0 1 12 2m0 2a8 8 0 0 0-8 8c0 1.720.54 3.310 1.460 4.610L4.500 19.500l2.890-.96A7.950 7.950 0 0 0 12 20a8 8 0 0 0 8-8 8 8 0 0 0-8-8z"/></g></svg>
<span class="t" style="left:732.70px;top:641.42px;font-size:12.5px;color:#fff;font-weight:700;letter-spacing:0.344px;">Jackie</span>
<span class="t" style="left:732.70px;top:658.54px;font-size:12px;color:#8f8f93;-webkit-text-stroke:.25px #8f8f93;letter-spacing:0.226px;">56789132065@s.whatsapp.net</span>
<span class="t" style="left:1041.29px;top:641.42px;font-size:12.5px;color:#a0a0a4;-webkit-text-stroke:.25px #a0a0a4;letter-spacing:0.292px;">Fri, 20 Jun 2025, 3:25:48 pm GMT+5:30</span>
<div class="a" style="left:1280.5px;top:630.5px;width:9.5px;height:108px;background:#25262a;border-radius:0 8px 8px 0;"></div>
<div class="a" style="left:1281.5px;top:641.5px;width:7px;height:53px;background:#69696b;"></div>
<svg class="a" style="left:1281.5px;top:634.0px;" width="8" height="5" viewBox="0 0 8 5"><path d="M0.500 4.500L4 1L7.500 4.500z" fill="#77787c"/></svg>
<svg class="a" style="left:1281.5px;top:729.5px;" width="8" height="5" viewBox="0 0 8 5"><path d="M0.500 0.500L4 4L7.500 0.500z" fill="#77787c"/></svg>
<span class="t" style="left:697.00px;top:678.32px;font-size:12.5px;color:#a3a3a7;-webkit-text-stroke:.25px #a3a3a7;letter-spacing:0.483px;">Last Activity:</span>
<span class="t" style="left:776.80px;top:678.32px;font-size:12.5px;color:#fff;font-weight:700;letter-spacing:0.116px;">*Team India&#x27;s Playing XI for the 1st Test vs*</span>
<svg class="a" style="left:1045.3px;top:678.0px;" width="11" height="11" viewBox="0 0 11 11"><path d="M1.500 0.300V11" stroke="#606167" stroke-width="1.200"/><path d="M2.400 1.200h7.600v6h-7.600z" fill="#030303" stroke="#4c4d53" stroke-width=".7"/></svg>
<span class="t" style="left:1062.30px;top:678.32px;font-size:12.5px;color:#fff;font-weight:700;letter-spacing:0.341px;">*Sai Sudharsan m</span>
<div class="a" style="left:689px;top:691.5px;width:591px;height:47px;overflow:hidden">
<span class="t" style="left:87.80px;top:4.12px;font-size:12.5px;color:#fff;font-weight:700;letter-spacing:0.149px;">akes his Test Debut* KL Rahul Yashasvi Jaiswal Sai Sudharsan (D</span>
<span class="t" style="left:87.80px;top:22.12px;font-size:12.5px;color:#fff;font-weight:700;letter-spacing:0.263px;">ebut) Shubman Gill (c) Rishabh Pant (wk &amp; vc) Karun Nair Ravin</span>
<span class="t" style="left:87.80px;top:40.12px;font-size:12.5px;color:#fff;font-weight:700;letter-spacing:0.146px;">dra Jadeja Shardul Thakur Jasprit Bumrah Mohd. Siraj Prasidh Kri</span>
</div>
<div class="a" style="left:1295px;top:629px;width:604px;height:110px;background:#1b1c21;border:1px solid #585960;border-radius:9px;"></div>
<svg class="a" style="left:1304px;top:640.5px" width="30" height="30" viewBox="0 0 30 30">
<defs><linearGradient id="wa1319655" x1="0" y1="0" x2="0" y2="1"><stop offset="0" stop-color="#5bdc72"/><stop offset="1" stop-color="#25b845"/></linearGradient></defs>
<circle cx="15" cy="15" r="15" fill="url(#wa1319655)"/><g transform="translate(4.200 4.200) scale(0.9)"><path fill="#fff" d="M16.750 13.960c.25.130.41.2.46.3.06.110.04.610-.21 1.180-.2.560-1.240 1.100-1.700 1.120-.46.020-.47.360-2.960-.730-2.490-1.090-3.990-3.750-4.110-3.920-.12-.17-.96-1.380-.92-2.610.05-1.220.69-1.800.95-2.040.24-.26.51-.29.68-.26h.47c.15 0 .36-.06.55.45l.69 1.870c.06.130.1.280.1.440l-.27.410-.39.420c-.12.120-.26.250-.12.500.12.260.62 1.090 1.320 1.780.91.880 1.710 1.170 1.950 1.300.24.140.39.120.54-.04l.81-.94c.19-.25.350-.19.580-.11l1.670.880M12 2a10 10 0 0 1 10 10 10 10 0 0 1-10 10c-1.970 0-3.800-.57-5.350-1.550L2 22l1.550-4.650A9.969 9.969 0 0 1 2 12 10 10 0 0 1 12 2m0 2a8 8 0 0 0-8 8c0 1.720.54 3.310 1.460 4.610L4.500 19.500l2.890-.96A7.950 7.950 0 0 0 12 20a8 8 0 0 0 8-8 8 8 0 0 0-8-8z"/></g></svg>
<span class="t" style="left:1340.20px;top:641.42px;font-size:12.5px;color:#fff;font-weight:700;letter-spacing:0.489px;">863845787877</span>
<span class="t" style="left:1340.20px;top:658.54px;font-size:12px;color:#8f8f93;-webkit-text-stroke:.25px #8f8f93;letter-spacing:0.142px;">863845787877</span>
<span class="t" style="left:1655.66px;top:641.42px;font-size:12.5px;color:#a0a0a4;-webkit-text-stroke:.25px #a0a0a4;letter-spacing:0.161px;">Thu, 20 Mar 2025, 1:44:15 pm GMT+5:30</span>
<span class="t" style="left:1304.50px;top:678.32px;font-size:12.5px;color:#a3a3a7;-webkit-text-stroke:.25px #a3a3a7;letter-spacing:0.483px;">Last Activity:</span>
<span class="t" style="left:1384.30px;top:678.32px;font-size:12.5px;color:#fff;font-weight:700;letter-spacing:0.191px;">Outgoing call to +22317312546785 was not answered.</span>
<span class="t" style="left:1304.50px;top:698.32px;font-size:12.5px;color:#a3a3a7;-webkit-text-stroke:.25px #a3a3a7;letter-spacing:0.447px;">Version:</span>
<span class="t" style="left:1359.50px;top:698.32px;font-size:12.5px;color:#fff;font-weight:700;letter-spacing:0.326px;">Not Available</span>
<span class="t" style="left:1304.50px;top:718.32px;font-size:12.5px;color:#a3a3a7;-webkit-text-stroke:.25px #a3a3a7;letter-spacing:-0.074px;">Bio:</span>
<span class="t" style="left:1331.30px;top:718.32px;font-size:12.5px;color:#fff;font-weight:700;letter-spacing:0.350px;">Not Availabe</span>
<div class="a" style="left:1903px;top:629px;width:605px;height:110px;background:#1b1c21;border:1px solid #585960;border-radius:9px;"></div>
<svg class="a" style="left:1911px;top:640.5px" width="30" height="30" viewBox="0 0 30 30">
<defs><linearGradient id="wa1926655" x1="0" y1="0" x2="0" y2="1"><stop offset="0" stop-color="#5bdc72"/><stop offset="1" stop-color="#25b845"/></linearGradient></defs>
<circle cx="15" cy="15" r="15" fill="url(#wa1926655)"/><g transform="translate(4.200 4.200) scale(0.9)"><path fill="#fff" d="M12 2a10 10 0 0 1 10 10 10 10 0 0 1-10 10c-1.970 0-3.800-.57-5.350-1.550L2 22l1.550-4.650A9.969 9.969 0 0 1 2 12 10 10 0 0 1 12 2m0 2a8 8 0 0 0-8 8c0 1.720.54 3.310 1.460 4.610L4.500 19.500l2.890-.96A7.950 7.950 0 0 0 12 20a8 8 0 0 0 8-8 8 8 0 0 0-8-8z"/></g><text x="15" y="19.600" font-family="Liberation Sans, sans-serif" font-size="11.500" font-weight="700" fill="#fff" text-anchor="middle">B</text></svg>
<span class="t" style="left:1947.70px;top:641.42px;font-size:12.5px;color:#fff;font-weight:700;letter-spacing:0.344px;">Jackie</span>
<span class="t" style="left:1947.70px;top:658.54px;font-size:12px;color:#8f8f93;-webkit-text-stroke:.25px #8f8f93;letter-spacing:0.170px;">231378258758@s.whatsapp.net</span>
<span class="t" style="left:2256.29px;top:641.42px;font-size:12.5px;color:#a0a0a4;-webkit-text-stroke:.25px #a0a0a4;letter-spacing:0.292px;">Fri, 20 Jun 2025, 3:25:48 pm GMT+5:30</span>
<div class="a" style="left:2497.0px;top:630.5px;width:9.5px;height:108px;background:#25262a;border-radius:0 8px 8px 0;"></div>
<div class="a" style="left:2498.0px;top:641.5px;width:7px;height:53px;background:#69696b;"></div>
<svg class="a" style="left:2498.0px;top:634.0px;" width="8" height="5" viewBox="0 0 8 5"><path d="M0.500 4.500L4 1L7.500 4.500z" fill="#77787c"/></svg>
<svg class="a" style="left:2498.0px;top:729.5px;" width="8" height="5" viewBox="0 0 8 5"><path d="M0.500 0.500L4 4L7.500 0.500z" fill="#77787c"/></svg>
<span class="t" style="left:1912.00px;top:678.32px;font-size:12.5px;color:#a3a3a7;-webkit-text-stroke:.25px #a3a3a7;letter-spacing:0.483px;">Last Activity:</span>
<span class="t" style="left:1991.80px;top:678.32px;font-size:12.5px;color:#fff;font-weight:700;letter-spacing:0.116px;">*Team India&#x27;s Playing XI for the 1st Test vs*</span>
<svg class="a" style="left:2260.3px;top:678.0px;" width="11" height="11" viewBox="0 0 11 11"><path d="M1.500 0.300V11" stroke="#606167" stroke-width="1.200"/><path d="M2.400 1.200h7.600v6h-7.600z" fill="#030303" stroke="#4c4d53" stroke-width=".7"/></svg>
<span class="t" style="left:2277.30px;top:678.32px;font-size:12.5px;color:#fff;font-weight:700;letter-spacing:0.341px;">*Sai Sudharsan m</span>
<div class="a" style="left:1904px;top:691.5px;width:591px;height:47px;overflow:hidden">
<span class="t" style="left:87.80px;top:4.12px;font-size:12.5px;color:#fff;font-weight:700;letter-spacing:0.149px;">akes his Test Debut* KL Rahul Yashasvi Jaiswal Sai Sudharsan (D</span>
<span class="t" style="left:87.80px;top:22.12px;font-size:12.5px;color:#fff;font-weight:700;letter-spacing:0.263px;">ebut) Shubman Gill (c) Rishabh Pant (wk &amp; vc) Karun Nair Ravin</span>
<span class="t" style="left:87.80px;top:40.12px;font-size:12.5px;color:#fff;font-weight:700;letter-spacing:0.146px;">dra Jadeja Shardul Thakur Jasprit Bumrah Mohd. Siraj Prasidh Kri</span>
</div>
</section>
<section aria-label="Statistics">
<div class="a" style="left:85px;top:810px;width:110px;height:50px;background:#1b1c21;border:1px solid #595a61;border-radius:5px;"></div>
<div class="a" style="left:93.0px;top:818px;width:34.5px;height:34.5px;background:#0f1014;border:1px solid #64656b;border-radius:18px;"></div>
<svg class="a" style="left:100.0px;top:825.0px;" width="20.5" height="20.5" viewBox="0 0 24 24"><g fill="none" stroke="#1f9aea" stroke-width="2"><path d="M20 10.500V5a1 1 0 0 0-1-1H5a1 1 0 0 0-1 1v14a1 1 0 0 0 1 1h3.500"/><path d="M15.500 14.500H14a3 3 0 0 0 0 6h1.500M18.500 14.500H20a3 3 0 0 1 0 6h-1.500M14.500 17.500h5"/></g><path fill="#1f9aea" d="M7 7h4v4H7zM13 7h4v4h-4zM7 13h3.500v3.500H7z"/></svg>
<span class="t" style="left:133.01px;top:821.00px;font-size:13px;color:#fff;font-weight:700;letter-spacing:-0.238px;">86.74 GB</span>
<span class="t" style="left:136.09px;top:838.09px;font-size:9.7px;color:#fff;font-weight:700;letter-spacing:0.189px;">Total Data</span>
<div class="a" style="left:205px;top:810px;width:110px;height:50px;background:#1b1c21;border:1px solid #595a61;border-radius:5px;"></div>
<div class="a" style="left:211.0px;top:818px;width:34.5px;height:34.5px;background:#0f1014;border:1px solid #64656b;border-radius:18px;"></div>
<svg class="a" style="left:218.00px;top:825.00px;" width="20.5" height="20.5" viewBox="0 0 24 24"><path fill="#1f9aea" d="M4 8h4V4H4v4zm6 12h4v-4h-4v4zm-6 0h4v-4H4v4zm0-6h4v-4H4v4zm6 0h4v-4h-4v4zm6-10v4h4V4h-4zm-6 4h4V4h-4v4zm6 6h4v-4h-4v4zm0 6h4v-4h-4v4z"/></svg>
<span class="t" style="left:268.88px;top:821.00px;font-size:13px;color:#fff;font-weight:700;letter-spacing:0.266px;">503</span>
<span class="t" style="left:251.11px;top:838.09px;font-size:9.7px;color:#fff;font-weight:700;letter-spacing:-0.033px;">Applications</span>
<div class="a" style="left:325px;top:810px;width:110px;height:50px;background:#1b1c21;border:1px solid #595a61;border-radius:5px;"></div>
<div class="a" style="left:341.0px;top:818px;width:34.5px;height:34.5px;background:#0f1014;border:1px solid #64656b;border-radius:18px;"></div>
<svg class="a" style="left:348.00px;top:825.00px;" width="20.5" height="20.5" viewBox="0 0 24 24"><path fill="#1f9aea" d="M14 2H6c-1.100 0-1.990.9-1.990 2L4 20c0 1.100.89 2 1.990 2H18c1.100 0 2-.9 2-2V8l-6-6zM6 20V4h7v5h5v11H6z"/></svg>
<span class="t" style="left:381.38px;top:821.00px;font-size:13px;color:#fff;font-weight:700;letter-spacing:0.269px;">63254</span>
<span class="t" style="left:389.79px;top:838.09px;font-size:9.7px;color:#fff;font-weight:700;letter-spacing:-0.416px;">Files</span>
<div class="a" style="left:445px;top:810px;width:110px;height:50px;background:#1b1c21;border:1px solid #595a61;border-radius:5px;"></div>
<div class="a" style="left:459.0px;top:818px;width:34.5px;height:34.5px;background:#0f1014;border:1px solid #64656b;border-radius:18px;"></div>
<svg class="a" style="left:466.00px;top:825.00px;" width="20.5" height="20.5" viewBox="0 0 24 24"><path fill="#1f9aea" d="M20 0H4v2h16V0zM4 24h16v-2H4v2zM20 4H4c-1.100 0-2 .9-2 2v12c0 1.100.9 2 2 2h16c1.100 0 2-.9 2-2V6c0-1.100-.9-2-2-2zm-8 2.750c1.240 0 2.250 1.010 2.250 2.250s-1.010 2.250-2.250 2.250S9.750 10.240 9.750 9 10.760 6.750 12 6.750zM17 17H7v-1.500c0-1.670 3.330-2.500 5-2.500s5 .83 5 2.500V17z"/></svg>
<span class="t" style="left:502.88px;top:821.00px;font-size:13px;color:#fff;font-weight:700;letter-spacing:-0.481px;">31200</span>
<span class="t" style="left:498.82px;top:838.09px;font-size:9.7px;color:#fff;font-weight:700;letter-spacing:0.131px;">Contacts</span>
<div class="a" style="left:565px;top:810px;width:110px;height:50px;background:#1b1c21;border:1px solid #595a61;border-radius:5px;"></div>
<div class="a" style="left:588.05px;top:818px;width:34.5px;height:34.5px;background:#0f1014;border:1px solid #64656b;border-radius:18px;"></div>
<svg class="a" style="left:595.05px;top:825.00px;" width="20.5" height="20.5" viewBox="0 0 24 24"><path fill="#1f9aea" d="M6.620 10.790c1.440 2.830 3.760 5.140 6.590 6.590l2.200-2.200c.27-.27.67-.36 1.020-.24 1.120.37 2.330.57 3.570.57.55 0 1 .45 1 1V20c0 .55-.45 1-1 1-9.390 0-17-7.610-17-17 0-.55.45-1 1-1h3.500c.55 0 1 .45 1 1 0 1.250.2 2.450.57 3.570.11.35.03.74-.25 1.020l-2.200 2.200z"/></svg>
<span class="t" style="left:629.05px;top:821.00px;font-size:13px;color:#fff;font-weight:700;letter-spacing:0.099px;">220</span>
<span class="t" style="left:628.48px;top:838.09px;font-size:9.7px;color:#fff;font-weight:700;letter-spacing:-0.031px;">Calls</span>
<div class="a" style="left:685px;top:810px;width:110px;height:50px;background:#1b1c21;border:1px solid #595a61;border-radius:5px;"></div>
<div class="a" style="left:697.25px;top:818px;width:34.5px;height:34.5px;background:#0f1014;border:1px solid #64656b;border-radius:18px;"></div>
<svg class="a" style="left:704.25px;top:825.00px;" width="20.5" height="20.5" viewBox="0 0 24 24"><path fill="#1f9aea" d="M4 4h16v12H5.170L4 17.170V4m0-2c-1.100 0-1.990.9-1.990 2L2 22l4-4h14c1.100 0 2-.9 2-2V4c0-1.100-.9-2-2-2H4zm2 10h12v2H6v-2zm0-3h12v2H6V9zm0-3h12v2H6V6z"/></svg>
<span class="t" style="left:740.78px;top:821.00px;font-size:13px;color:#fff;font-weight:700;letter-spacing:0.569px;">56004</span>
<span class="t" style="left:736.85px;top:838.09px;font-size:9.7px;color:#fff;font-weight:700;">Messages</span>
<div class="a" style="left:805px;top:810px;width:110px;height:50px;background:#1b1c21;border:1px solid #595a61;border-radius:5px;"></div>
<div class="a" style="left:823.0px;top:818px;width:34.5px;height:34.5px;background:#0f1014;border:1px solid #64656b;border-radius:18px;"></div>
<svg class="a" style="left:830.00px;top:825.00px;" width="20.5" height="20.5" viewBox="0 0 24 24"><path fill="#1f9aea" d="M9 13.750c-2.340 0-7 1.170-7 3.500V19h14v-1.750c0-2.330-4.660-3.500-7-3.500zM4.340 17c.84-.58 2.870-1.250 4.660-1.250s3.820.67 4.660 1.250H4.340zM9 12c1.930 0 3.500-1.570 3.500-3.500S10.930 5 9 5 5.500 6.570 5.500 8.500 7.070 12 9 12zm0-5c.83 0 1.500.67 1.500 1.500S9.830 10 9 10s-1.500-.67-1.500-1.500S8.170 7 9 7zm7.040 6.810c1.160.84 1.960 1.960 1.960 3.440V19h4v-1.750c0-2.020-3.500-3.170-5.960-3.440zM15 12c1.930 0 3.500-1.570 3.500-3.500S16.930 5 15 5c-.54 0-1.040.13-1.500.35.63.89 1 1.980 1 3.150s-.37 2.260-1 3.150c.46.22.96.35 1.500.35z"/></svg>
<span class="t" style="left:872.18px;top:821.00px;font-size:13px;color:#fff;font-weight:700;letter-spacing:0.166px;">65</span>
<span class="t" style="left:862.55px;top:838.09px;font-size:9.7px;color:#fff;font-weight:700;letter-spacing:-0.109px;">Groups</span>
<div class="a" style="left:925px;top:810px;width:110px;height:50px;background:#1b1c21;border:1px solid #595a61;border-radius:5px;"></div>
<div class="a" style="left:935.25px;top:818px;width:34.5px;height:34.5px;background:#0f1014;border:1px solid #64656b;border-radius:18px;"></div>
<svg class="a" style="left:942.25px;top:825.00px;" width="20.5" height="20.5" viewBox="0 0 24 24"><path fill="#1f9aea" d="M21 10h-8.350C11.830 7.670 9.610 6 7 6c-3.310 0-6 2.690-6 6s2.690 6 6 6c2.610 0 4.830-1.670 5.650-4H13l2 2 2-2 2 2 4-4.040L21 10zM7 15c-1.650 0-3-1.350-3-3s1.350-3 3-3 3 1.350 3 3-1.350 3-3 3z"/></svg>
<span class="t" style="left:995.88px;top:821.00px;font-size:13px;color:#fff;font-weight:700;letter-spacing:0.066px;">0</span>
<span class="t" style="left:974.52px;top:838.09px;font-size:9.7px;color:#fff;font-weight:700;letter-spacing:-0.151px;">Passwords</span>
<div class="a" style="left:1045px;top:810px;width:110px;height:50px;background:#1b1c21;border:1px solid #595a61;border-radius:5px;"></div>
<div class="a" style="left:1057.75px;top:818px;width:34.5px;height:34.5px;background:#0f1014;border:1px solid #64656b;border-radius:18px;"></div>
<svg class="a" style="left:1064.75px;top:825.00px;" width="20.5" height="20.5" viewBox="0 0 24 24"><path fill="#1f9aea" d="M15.500 14h-.79l-.28-.27C15.410 12.590 16 11.110 16 9.500 16 5.910 13.090 3 9.500 3S3 5.910 3 9.500 5.910 16 9.500 16c1.610 0 3.090-.59 4.230-1.570l.27.28v.79l5 4.990L20.490 19l-4.990-5zm-6 0C7.010 14 5 11.990 5 9.500S7.010 5 9.500 5 14 7.010 14 9.500 11.990 14 9.500 14z"/></svg>
<span class="t" style="left:1112.18px;top:821.00px;font-size:13px;color:#fff;font-weight:700;letter-spacing:0.166px;">69</span>
<span class="t" style="left:1097.99px;top:838.09px;font-size:9.7px;color:#fff;font-weight:700;letter-spacing:-0.012px;">Searches</span>
<div class="a" style="left:1165px;top:810px;width:110px;height:50px;background:#1b1c21;border:1px solid #595a61;border-radius:5px;"></div>
<div class="a" style="left:1182.0px;top:818px;width:34.5px;height:34.5px;background:#0f1014;border:1px solid #64656b;border-radius:18px;"></div>
<svg class="a" style="left:1189.00px;top:825.00px;" width="20.5" height="20.5" viewBox="0 0 24 24"><path fill="#1f9aea" d="M6 19c0 1.100.9 2 2 2h8c1.100 0 2-.9 2-2V7H6v12zM19 4h-3.500l-1-1h-5l-1 1H5v2h14V4z"/></svg>
<span class="t" style="left:1229.22px;top:821.00px;font-size:13px;color:#fff;font-weight:700;letter-spacing:-0.568px;">651</span>
<span class="t" style="left:1221.66px;top:838.09px;font-size:9.7px;color:#fff;font-weight:700;letter-spacing:0.114px;">Deleted</span>
<div class="a" style="left:80px;top:870px;width:2450px;height:410.5px;background:#1b1c21;border-radius:3px;box-shadow:0 0 5px rgba(0,0,0,.3);"></div>
<div class="a" style="left:86px;top:876px;width:80px;height:30px;background:#2a2b30;border:1px solid #696a71;border-radius:4px;"></div>
<span class="t" style="left:91.59px;top:885.40px;font-size:13px;color:#fff;font-weight:700;letter-spacing:-0.377px;">CONTACTS</span>
<div class="a" style="left:176px;top:876px;width:80px;height:30px;background:#1a1b20;border:1px solid #55565c;border-radius:4px;"></div>
<span class="t" style="left:190.06px;top:885.40px;font-size:13px;color:#9c9ca0;font-weight:700;letter-spacing:-0.932px;">GROUPS</span>
<div class="a" style="left:266px;top:876px;width:80px;height:30px;background:#1a1b20;border:1px solid #55565c;border-radius:4px;"></div>
<span class="t" style="left:286.87px;top:885.40px;font-size:13px;color:#9c9ca0;font-weight:700;letter-spacing:-1.319px;">CALLS</span>
<div class="a" style="left:86px;top:924px;width:2438px;height:350px;background:#101116;border:1px solid #62636a;border-radius:6px;"></div>
<span class="t" style="left:112.00px;top:936.70px;font-size:15px;color:#fff;font-weight:700;letter-spacing:0.114px;">Contacts (Top 10)</span>
<svg class="a" style="left:0;top:0" width="700" height="1385" viewBox="0 0 700 1385"><path d="M399.57 996.38A126.40 126.40 0 0 1 517.26 1113.20L507.19 1112.71A116.40 116.40 0 0 0 400.14 1006.44Z" fill="#fff" stroke="#fff" stroke-opacity=".85" fill-opacity=".85" stroke-width="21.2" stroke-linejoin="round"/><path d="M399.57 996.38A126.40 126.40 0 0 1 517.26 1113.20L507.19 1112.71A116.40 116.40 0 0 0 400.14 1006.44Z" fill="#0782b8" stroke="#0782b8" stroke-width="19.2" stroke-linejoin="round"/><path d="M515.76 1143.97A126.40 126.40 0 0 1 515.60 1144.89L505.97 1141.91A116.40 116.40 0 0 0 505.69 1143.48Z" fill="#fff" stroke="#fff" stroke-opacity=".85" fill-opacity=".85" stroke-width="21.2" stroke-linejoin="round"/><path d="M515.76 1143.97A126.40 126.40 0 0 1 515.60 1144.89L505.97 1141.91A116.40 116.40 0 0 0 505.69 1143.48Z" fill="#09bfd2" stroke="#09bfd2" stroke-width="19.2" stroke-linejoin="round"/><path d="M506.49 1174.31A126.40 126.40 0 0 1 504.32 1178.90L495.91 1173.34A116.40 116.40 0 0 0 496.86 1171.33Z" fill="#fff" stroke="#fff" stroke-opacity=".85" fill-opacity=".85" stroke-width="21.2" stroke-linejoin="round"/><path d="M506.49 1174.31A126.40 126.40 0 0 1 504.32 1178.90L495.91 1173.34A116.40 116.40 0 0 0 496.86 1171.33Z" fill="#c5be40" stroke="#c5be40" stroke-width="19.2" stroke-linejoin="round"/><path d="M487.32 1204.59A126.40 126.40 0 0 1 483.35 1209.01L476.90 1201.27A116.40 116.40 0 0 0 478.91 1199.02Z" fill="#fff" stroke="#fff" stroke-opacity=".85" fill-opacity=".85" stroke-width="21.2" stroke-linejoin="round"/><path d="M487.32 1204.59A126.40 126.40 0 0 1 483.35 1209.01L476.90 1201.27A116.40 116.40 0 0 0 478.91 1199.02Z" fill="#808080" stroke="#808080" stroke-width="19.2" stroke-linejoin="round"/><path d="M459.69 1228.73A126.40 126.40 0 0 1 441.07 1238.65L438.25 1228.97A116.40 116.40 0 0 0 453.24 1220.99Z" fill="#fff" stroke="#fff" stroke-opacity=".85" fill-opacity=".85" stroke-width="21.2" stroke-linejoin="round"/><path d="M459.69 1228.73A126.40 126.40 0 0 1 441.07 1238.65L438.25 1228.97A116.40 116.40 0 0 0 453.24 1220.99Z" fill="#e67ac3" stroke="#e67ac3" stroke-width="19.2" stroke-linejoin="round"/><path d="M411.50 1247.26A126.40 126.40 0 0 1 388.22 1248.86L389.68 1238.89A116.40 116.40 0 0 0 408.68 1237.58Z" fill="#fff" stroke="#fff" stroke-opacity=".85" fill-opacity=".85" stroke-width="21.2" stroke-linejoin="round"/><path d="M411.50 1247.26A126.40 126.40 0 0 1 388.22 1248.86L389.68 1238.89A116.40 116.40 0 0 0 408.68 1237.58Z" fill="#8f5850" stroke="#8f5850" stroke-width="19.2" stroke-linejoin="round"/><path d="M357.74 1244.39A126.40 126.40 0 0 1 335.17 1235.80L340.71 1227.38A116.40 116.40 0 0 0 359.21 1234.42Z" fill="#fff" stroke="#fff" stroke-opacity=".85" fill-opacity=".85" stroke-width="21.2" stroke-linejoin="round"/><path d="M357.74 1244.39A126.40 126.40 0 0 1 335.17 1235.80L340.71 1227.38A116.40 116.40 0 0 0 359.21 1234.42Z" fill="#986bbf" stroke="#986bbf" stroke-width="19.2" stroke-linejoin="round"/><path d="M309.43 1218.89A126.40 126.40 0 0 1 285.03 1191.10L294.11 1186.70A116.40 116.40 0 0 0 314.97 1210.46Z" fill="#fff" stroke="#fff" stroke-opacity=".85" fill-opacity=".85" stroke-width="21.2" stroke-linejoin="round"/><path d="M309.43 1218.89A126.40 126.40 0 0 1 285.03 1191.10L294.11 1186.70A116.40 116.40 0 0 0 314.97 1210.46Z" fill="#de042e" stroke="#de042e" stroke-width="19.2" stroke-linejoin="round"/><path d="M271.59 1163.38A126.40 126.40 0 0 1 264.91 1117.27L274.86 1118.91A116.40 116.40 0 0 0 280.67 1158.99Z" fill="#fff" stroke="#fff" stroke-opacity=".85" fill-opacity=".85" stroke-width="21.2" stroke-linejoin="round"/><path d="M271.59 1163.38A126.40 126.40 0 0 1 264.91 1117.27L274.86 1118.91A116.40 116.40 0 0 0 280.67 1158.99Z" fill="#22a341" stroke="#22a341" stroke-width="19.2" stroke-linejoin="round"/><path d="M269.92 1086.88A126.40 126.40 0 0 1 368.82 998.10L369.38 1008.16A116.40 116.40 0 0 0 279.87 1088.52Z" fill="#fff" stroke="#fff" stroke-opacity=".85" fill-opacity=".85" stroke-width="21.2" stroke-linejoin="round"/><path d="M269.92 1086.88A126.40 126.40 0 0 1 368.82 998.10L369.38 1008.16A116.40 116.40 0 0 0 279.87 1088.52Z" fill="#ff7f30" stroke="#ff7f30" stroke-width="19.2" stroke-linejoin="round"/></svg>
<div class="a" style="left:709px;top:986.9px;width:10px;height:10px;background:#0b87c7;border-radius:5px;"></div>
<svg class="a" style="left:729.5px;top:986.4px;" width="9" height="9" viewBox="0 0 9 9"><circle cx="4.500" cy="4.500" r="3.700" fill="none" stroke="#6d6e72" stroke-width=".9"/><path d="M3.200 3.400h2.400M4.500 3.400v2.600" stroke="#6d6e72" stroke-width=".8" fill="none"/></svg>
<span class="t" style="left:744.40px;top:985.30px;font-size:13px;color:#b3b3b7;-webkit-text-stroke:.25px #b3b3b7;letter-spacing:-0.635px;">Ps2</span>
<div class="a" style="left:709px;top:1015.9px;width:10px;height:10px;background:#ff8432;border-radius:5px;"></div>
<svg class="a" style="left:729.5px;top:1015.4px;" width="9" height="9" viewBox="0 0 9 9"><circle cx="4.500" cy="4.500" r="3.700" fill="none" stroke="#6d6e72" stroke-width=".9"/><path d="M3.200 3.400h2.400M4.500 3.400v2.600" stroke="#6d6e72" stroke-width=".8" fill="none"/></svg>
<span class="t" style="left:744.40px;top:1014.30px;font-size:13px;color:#b3b3b7;-webkit-text-stroke:.25px #b3b3b7;letter-spacing:0.323px;">857698678676786</span>
<div class="a" style="left:709px;top:1044.9px;width:10px;height:10px;background:#2aa84a;border-radius:5px;"></div>
<svg class="a" style="left:729.5px;top:1044.4px;" width="9" height="9" viewBox="0 0 9 9"><circle cx="4.500" cy="4.500" r="3.700" fill="none" stroke="#6d6e72" stroke-width=".9"/><path d="M3.200 3.400h2.400M4.500 3.400v2.600" stroke="#6d6e72" stroke-width=".8" fill="none"/></svg>
<span class="t" style="left:744.40px;top:1043.30px;font-size:13px;color:#b3b3b7;-webkit-text-stroke:.25px #b3b3b7;letter-spacing:0.236px;">876786876786</span>
<div class="a" style="left:709px;top:1073.9px;width:10px;height:10px;background:#e60f38;border-radius:5px;"></div>
<svg class="a" style="left:729.5px;top:1073.4px;" width="9" height="9" viewBox="0 0 9 9"><circle cx="4.500" cy="4.500" r="3.700" fill="none" stroke="#6d6e72" stroke-width=".9"/><path d="M3.200 3.400h2.400M4.500 3.400v2.600" stroke="#6d6e72" stroke-width=".8" fill="none"/></svg>
<span class="t" style="left:744.40px;top:1072.30px;font-size:13px;color:#b3b3b7;-webkit-text-stroke:.25px #b3b3b7;letter-spacing:-0.265px;">Rose</span>
<div class="a" style="left:709px;top:1102.9px;width:10px;height:10px;background:#9f70c8;border-radius:5px;"></div>
<svg class="a" style="left:729.5px;top:1102.4px;" width="9" height="9" viewBox="0 0 9 9"><circle cx="4.500" cy="4.500" r="3.700" fill="none" stroke="#6d6e72" stroke-width=".9"/><path d="M3.200 3.400h2.400M4.500 3.400v2.600" stroke="#6d6e72" stroke-width=".8" fill="none"/></svg>
<span class="t" style="left:744.40px;top:1101.30px;font-size:13px;color:#b3b3b7;-webkit-text-stroke:.25px #b3b3b7;letter-spacing:0.436px;">534345345345354</span>
<div class="a" style="left:709px;top:1131.9px;width:10px;height:10px;background:#9a6458;border-radius:5px;"></div>
<svg class="a" style="left:729.5px;top:1131.4px;" width="9" height="9" viewBox="0 0 9 9"><circle cx="4.500" cy="4.500" r="3.700" fill="none" stroke="#6d6e72" stroke-width=".9"/><path d="M3.200 3.400h2.400M4.500 3.400v2.600" stroke="#6d6e72" stroke-width=".8" fill="none"/></svg>
<span class="t" style="left:744.40px;top:1130.30px;font-size:13px;color:#b3b3b7;-webkit-text-stroke:.25px #b3b3b7;letter-spacing:0.523px;">Jackie</span>
<div class="a" style="left:709px;top:1160.9px;width:10px;height:10px;background:#ea7fc8;border-radius:5px;"></div>
<svg class="a" style="left:729.5px;top:1160.4px;" width="9" height="9" viewBox="0 0 9 9"><circle cx="4.500" cy="4.500" r="3.700" fill="none" stroke="#6d6e72" stroke-width=".9"/><path d="M3.200 3.400h2.400M4.500 3.400v2.600" stroke="#6d6e72" stroke-width=".8" fill="none"/></svg>
<span class="t" style="left:744.40px;top:1159.30px;font-size:13px;color:#b3b3b7;-webkit-text-stroke:.25px #b3b3b7;letter-spacing:-0.639px;">MR JOHNSON</span>
<div class="a" style="left:709px;top:1189.9px;width:10px;height:10px;background:#858585;border-radius:5px;"></div>
<svg class="a" style="left:729.5px;top:1189.4px;" width="9" height="9" viewBox="0 0 9 9"><circle cx="4.500" cy="4.500" r="3.700" fill="none" stroke="#6d6e72" stroke-width=".9"/><path d="M3.200 3.400h2.400M4.500 3.400v2.600" stroke="#6d6e72" stroke-width=".8" fill="none"/></svg>
<span class="t" style="left:744.40px;top:1188.30px;font-size:13px;color:#b3b3b7;-webkit-text-stroke:.25px #b3b3b7;letter-spacing:0.559px;">azrpiiqp</span>
<div class="a" style="left:709px;top:1218.9px;width:10px;height:10px;background:#cbc443;border-radius:5px;"></div>
<svg class="a" style="left:729.5px;top:1218.4px;" width="9" height="9" viewBox="0 0 9 9"><circle cx="4.500" cy="4.500" r="3.700" fill="none" stroke="#6d6e72" stroke-width=".9"/><path d="M3.200 3.400h2.400M4.500 3.400v2.600" stroke="#6d6e72" stroke-width=".8" fill="none"/></svg>
<span class="t" style="left:744.40px;top:1217.30px;font-size:13px;color:#b3b3b7;-webkit-text-stroke:.25px #b3b3b7;letter-spacing:0.523px;">Jackie</span>
<div class="a" style="left:709px;top:1247.9px;width:10px;height:10px;background:#0ac3d6;border-radius:5px;"></div>
<svg class="a" style="left:729.5px;top:1247.4px;" width="9" height="9" viewBox="0 0 9 9"><circle cx="4.500" cy="4.500" r="3.700" fill="none" stroke="#6d6e72" stroke-width=".9"/><path d="M3.200 3.400h2.400M4.500 3.400v2.600" stroke="#6d6e72" stroke-width=".8" fill="none"/></svg>
<span class="t" style="left:744.40px;top:1246.30px;font-size:13px;color:#b3b3b7;-webkit-text-stroke:.25px #b3b3b7;letter-spacing:0.474px;">Noorainimraz</span>
<div class="a cr" style="right:1216.3px;top:981.15px;height:20px;display:flex;align-items:center;white-space:pre;font-size:13px;line-height:20px;color:#b3b3b7;letter-spacing:-0.177px;word-spacing:.2px;-webkit-text-stroke:.25px #b3b3b7"><span>4645 (</span><svg width="16" height="16" viewBox="0 0 24 24" style="margin:-1px 3px 0 3.300px;flex:none"><path fill="#b3b3b7" d="M6.540 5c.06.890.210 1.760.450 2.590l-1.200 1.200c-.410-1.200-.670-2.470-.760-3.790h1.510m9.860 12.020c.850.240 1.720.390 2.600.450v1.490c-1.320-.09-2.590-.350-3.800-.750l1.200-1.190M7.500 3H4c-.55 0-1 .45-1 1 0 9.390 7.610 17 17 17 .55 0 1-.45 1-1v-3.490c0-.55-.45-1-1-1-1.240 0-2.450-.2-3.570-.57-.1-.04-.21-.05-.31-.05-.26 0-.51.1-.71.29l-2.200 2.200c-2.830-1.450-5.150-3.760-6.590-6.590l2.200-2.200c.28-.28.36-.67.25-1.020C8.700 6.450 8.500 5.250 8.500 4c0-.55-.45-1-1-1z"/></svg><span>14</span><svg width="16" height="16" viewBox="0 0 24 24" style="margin:-1.500px 3.100px 0 2.300px;flex:none"><path fill="#b3b3b7" d="M4 4h16v12H5.170L4 17.170V4m0-2c-1.100 0-1.990.9-1.990 2L2 22l4-4h14c1.100 0 2-.9 2-2V4c0-1.100-.9-2-2-2H4zm2 10h12v2H6v-2zm0-3h12v2H6V9zm0-3h12v2H6V6z"/></svg><span>4631 )</span></div>
<div class="a cr" style="right:1216.3px;top:1010.15px;height:20px;display:flex;align-items:center;white-space:pre;font-size:13px;line-height:20px;color:#b3b3b7;letter-spacing:0.227px;word-spacing:.2px;-webkit-text-stroke:.25px #b3b3b7"><span>3698 (</span><svg width="16" height="16" viewBox="0 0 24 24" style="margin:-1px 3px 0 3.300px;flex:none"><path fill="#b3b3b7" d="M6.540 5c.06.890.210 1.760.450 2.590l-1.200 1.200c-.410-1.200-.670-2.470-.760-3.790h1.510m9.860 12.020c.850.240 1.720.390 2.600.450v1.490c-1.320-.09-2.590-.350-3.800-.750l1.200-1.190M7.500 3H4c-.55 0-1 .45-1 1 0 9.390 7.610 17 17 17 .55 0 1-.45 1-1v-3.490c0-.55-.45-1-1-1-1.240 0-2.450-.2-3.570-.57-.1-.04-.21-.05-.31-.05-.26 0-.51.1-.71.29l-2.200 2.200c-2.830-1.450-5.150-3.760-6.590-6.590l2.200-2.200c.28-.28.36-.67.25-1.020C8.700 6.450 8.500 5.250 8.500 4c0-.55-.45-1-1-1z"/></svg><span>0</span><svg width="16" height="16" viewBox="0 0 24 24" style="margin:-1.500px 3.100px 0 2.300px;flex:none"><path fill="#b3b3b7" d="M4 4h16v12H5.170L4 17.170V4m0-2c-1.100 0-1.990.9-1.990 2L2 22l4-4h14c1.100 0 2-.9 2-2V4c0-1.100-.9-2-2-2H4zm2 10h12v2H6v-2zm0-3h12v2H6V9zm0-3h12v2H6V6z"/></svg><span>3698 )</span></div>
<div class="a cr" style="right:1216.3px;top:1039.15px;height:20px;display:flex;align-items:center;white-space:pre;font-size:13px;line-height:20px;color:#b3b3b7;letter-spacing:-0.157px;word-spacing:.2px;-webkit-text-stroke:.25px #b3b3b7"><span>1544 (</span><svg width="16" height="16" viewBox="0 0 24 24" style="margin:-1px 3px 0 3.300px;flex:none"><path fill="#b3b3b7" d="M6.540 5c.06.890.210 1.760.450 2.590l-1.200 1.200c-.410-1.200-.670-2.470-.760-3.790h1.510m9.860 12.020c.850.240 1.720.390 2.600.450v1.490c-1.320-.09-2.590-.350-3.800-.750l1.200-1.190M7.500 3H4c-.55 0-1 .45-1 1 0 9.390 7.610 17 17 17 .55 0 1-.45 1-1v-3.490c0-.55-.45-1-1-1-1.240 0-2.450-.2-3.570-.57-.1-.04-.21-.05-.31-.05-.26 0-.51.1-.71.29l-2.200 2.200c-2.830-1.450-5.150-3.760-6.590-6.590l2.200-2.200c.28-.28.36-.67.25-1.020C8.700 6.450 8.500 5.250 8.500 4c0-.55-.45-1-1-1z"/></svg><span>0</span><svg width="16" height="16" viewBox="0 0 24 24" style="margin:-1.500px 3.100px 0 2.300px;flex:none"><path fill="#b3b3b7" d="M4 4h16v12H5.170L4 17.170V4m0-2c-1.100 0-1.990.9-1.990 2L2 22l4-4h14c1.100 0 2-.9 2-2V4c0-1.100-.9-2-2-2H4zm2 10h12v2H6v-2zm0-3h12v2H6V9zm0-3h12v2H6V6z"/></svg><span>1544 )</span></div>
<div class="a cr" style="right:1216.3px;top:1068.15px;height:20px;display:flex;align-items:center;white-space:pre;font-size:13px;line-height:20px;color:#b3b3b7;letter-spacing:-0.819px;word-spacing:.2px;-webkit-text-stroke:.25px #b3b3b7"><span>1318 (</span><svg width="16" height="16" viewBox="0 0 24 24" style="margin:-1px 3px 0 3.300px;flex:none"><path fill="#b3b3b7" d="M6.540 5c.06.890.210 1.760.450 2.590l-1.200 1.200c-.410-1.200-.670-2.470-.760-3.790h1.510m9.860 12.020c.850.240 1.720.390 2.600.450v1.490c-1.320-.09-2.590-.350-3.800-.750l1.200-1.190M7.500 3H4c-.55 0-1 .45-1 1 0 9.390 7.610 17 17 17 .55 0 1-.45 1-1v-3.490c0-.55-.45-1-1-1-1.240 0-2.450-.2-3.570-.57-.1-.04-.21-.05-.31-.05-.26 0-.51.1-.71.29l-2.200 2.200c-2.830-1.450-5.150-3.760-6.590-6.590l2.200-2.200c.28-.28.36-.67.25-1.020C8.700 6.450 8.500 5.250 8.500 4c0-.55-.45-1-1-1z"/></svg><span>0</span><svg width="16" height="16" viewBox="0 0 24 24" style="margin:-1.500px 3.100px 0 2.300px;flex:none"><path fill="#b3b3b7" d="M4 4h16v12H5.170L4 17.170V4m0-2c-1.100 0-1.990.9-1.990 2L2 22l4-4h14c1.100 0 2-.9 2-2V4c0-1.100-.9-2-2-2H4zm2 10h12v2H6v-2zm0-3h12v2H6V9zm0-3h12v2H6V6z"/></svg><span>1318 )</span></div>
<div class="a cr" style="right:1216.3px;top:1097.15px;height:20px;display:flex;align-items:center;white-space:pre;font-size:13px;line-height:20px;color:#b3b3b7;letter-spacing:-0.757px;word-spacing:.2px;-webkit-text-stroke:.25px #b3b3b7"><span>1019 (</span><svg width="16" height="16" viewBox="0 0 24 24" style="margin:-1px 3px 0 3.300px;flex:none"><path fill="#b3b3b7" d="M6.540 5c.06.890.210 1.760.450 2.590l-1.200 1.200c-.410-1.200-.670-2.470-.760-3.790h1.510m9.860 12.020c.850.240 1.720.390 2.600.450v1.490c-1.320-.09-2.590-.350-3.800-.750l1.200-1.190M7.500 3H4c-.55 0-1 .45-1 1 0 9.390 7.610 17 17 17 .55 0 1-.45 1-1v-3.490c0-.55-.45-1-1-1-1.240 0-2.450-.2-3.570-.57-.1-.04-.21-.05-.31-.05-.26 0-.51.1-.71.29l-2.200 2.200c-2.830-1.450-5.150-3.760-6.590-6.590l2.200-2.200c.28-.28.36-.67.25-1.020C8.700 6.450 8.500 5.250 8.500 4c0-.55-.45-1-1-1z"/></svg><span>0</span><svg width="16" height="16" viewBox="0 0 24 24" style="margin:-1.500px 3.100px 0 2.300px;flex:none"><path fill="#b3b3b7" d="M4 4h16v12H5.170L4 17.170V4m0-2c-1.100 0-1.990.9-1.990 2L2 22l4-4h14c1.100 0 2-.9 2-2V4c0-1.100-.9-2-2-2H4zm2 10h12v2H6v-2zm0-3h12v2H6V9zm0-3h12v2H6V6z"/></svg><span>1019 )</span></div>
<div class="a cr" style="right:1216.3px;top:1126.15px;height:20px;display:flex;align-items:center;white-space:pre;font-size:13px;line-height:20px;color:#b3b3b7;letter-spacing:-0.157px;word-spacing:.2px;-webkit-text-stroke:.25px #b3b3b7"><span>1000 (</span><svg width="16" height="16" viewBox="0 0 24 24" style="margin:-1px 3px 0 3.300px;flex:none"><path fill="#b3b3b7" d="M6.540 5c.06.890.210 1.760.450 2.590l-1.200 1.200c-.410-1.200-.670-2.470-.760-3.790h1.510m9.860 12.020c.850.240 1.720.390 2.600.450v1.490c-1.320-.09-2.590-.350-3.800-.750l1.200-1.190M7.500 3H4c-.55 0-1 .45-1 1 0 9.390 7.610 17 17 17 .55 0 1-.45 1-1v-3.490c0-.55-.45-1-1-1-1.240 0-2.450-.2-3.570-.57-.1-.04-.21-.05-.31-.05-.26 0-.51.1-.71.29l-2.200 2.200c-2.830-1.450-5.150-3.760-6.590-6.590l2.200-2.200c.28-.28.36-.67.25-1.020C8.700 6.450 8.500 5.250 8.500 4c0-.55-.45-1-1-1z"/></svg><span>0</span><svg width="16" height="16" viewBox="0 0 24 24" style="margin:-1.500px 3.100px 0 2.300px;flex:none"><path fill="#b3b3b7" d="M4 4h16v12H5.170L4 17.170V4m0-2c-1.100 0-1.990.9-1.990 2L2 22l4-4h14c1.100 0 2-.9 2-2V4c0-1.100-.9-2-2-2H4zm2 10h12v2H6v-2zm0-3h12v2H6V9zm0-3h12v2H6V6z"/></svg><span>1000 )</span></div>
<div class="a cr" style="right:1216.3px;top:1155.15px;height:20px;display:flex;align-items:center;white-space:pre;font-size:13px;line-height:20px;color:#b3b3b7;letter-spacing:0.245px;word-spacing:.2px;-webkit-text-stroke:.25px #b3b3b7"><span>948 (</span><svg width="16" height="16" viewBox="0 0 24 24" style="margin:-1px 3px 0 3.300px;flex:none"><path fill="#b3b3b7" d="M6.540 5c.06.890.210 1.760.450 2.590l-1.200 1.200c-.410-1.200-.670-2.470-.760-3.790h1.510m9.860 12.020c.850.240 1.720.390 2.600.450v1.490c-1.320-.09-2.590-.350-3.800-.750l1.200-1.190M7.500 3H4c-.55 0-1 .45-1 1 0 9.390 7.610 17 17 17 .55 0 1-.45 1-1v-3.490c0-.55-.45-1-1-1-1.240 0-2.450-.2-3.570-.57-.1-.04-.21-.05-.31-.05-.26 0-.51.1-.71.29l-2.200 2.200c-2.830-1.450-5.150-3.760-6.590-6.590l2.200-2.200c.28-.28.36-.67.25-1.020C8.700 6.450 8.500 5.250 8.500 4c0-.55-.45-1-1-1z"/></svg><span>0</span><svg width="16" height="16" viewBox="0 0 24 24" style="margin:-1.500px 3.100px 0 2.300px;flex:none"><path fill="#b3b3b7" d="M4 4h16v12H5.170L4 17.170V4m0-2c-1.100 0-1.990.9-1.990 2L2 22l4-4h14c1.100 0 2-.9 2-2V4c0-1.100-.9-2-2-2H4zm2 10h12v2H6v-2zm0-3h12v2H6V9zm0-3h12v2H6V6z"/></svg><span>948 )</span></div>
<div class="a cr" style="right:1216.3px;top:1184.15px;height:20px;display:flex;align-items:center;white-space:pre;font-size:13px;line-height:20px;color:#b3b3b7;letter-spacing:0.099px;word-spacing:.2px;-webkit-text-stroke:.25px #b3b3b7"><span>597 (</span><svg width="16" height="16" viewBox="0 0 24 24" style="margin:-1px 3px 0 3.300px;flex:none"><path fill="#b3b3b7" d="M6.540 5c.06.890.210 1.760.450 2.590l-1.200 1.200c-.410-1.200-.670-2.470-.760-3.790h1.510m9.860 12.020c.850.240 1.720.390 2.600.450v1.490c-1.320-.09-2.590-.350-3.800-.750l1.200-1.190M7.500 3H4c-.55 0-1 .45-1 1 0 9.390 7.610 17 17 17 .55 0 1-.45 1-1v-3.490c0-.55-.45-1-1-1-1.240 0-2.450-.2-3.570-.57-.1-.04-.21-.05-.31-.05-.26 0-.51.1-.71.29l-2.200 2.200c-2.830-1.450-5.150-3.760-6.590-6.590l2.200-2.200c.28-.28.36-.67.25-1.020C8.700 6.450 8.500 5.250 8.500 4c0-.55-.45-1-1-1z"/></svg><span>0</span><svg width="16" height="16" viewBox="0 0 24 24" style="margin:-1.500px 3.100px 0 2.300px;flex:none"><path fill="#b3b3b7" d="M4 4h16v12H5.170L4 17.170V4m0-2c-1.100 0-1.990.9-1.990 2L2 22l4-4h14c1.100 0 2-.9 2-2V4c0-1.100-.9-2-2-2H4zm2 10h12v2H6v-2zm0-3h12v2H6V9zm0-3h12v2H6V6z"/></svg><span>597 )</span></div>
<div class="a cr" style="right:1216.3px;top:1213.15px;height:20px;display:flex;align-items:center;white-space:pre;font-size:13px;line-height:20px;color:#b3b3b7;letter-spacing:0.071px;word-spacing:.2px;-webkit-text-stroke:.25px #b3b3b7"><span>577 (</span><svg width="16" height="16" viewBox="0 0 24 24" style="margin:-1px 3px 0 3.300px;flex:none"><path fill="#b3b3b7" d="M6.540 5c.06.890.210 1.760.450 2.590l-1.200 1.200c-.410-1.200-.670-2.470-.760-3.790h1.510m9.860 12.020c.850.240 1.720.390 2.600.450v1.490c-1.320-.09-2.590-.350-3.800-.750l1.200-1.190M7.500 3H4c-.55 0-1 .45-1 1 0 9.390 7.610 17 17 17 .55 0 1-.45 1-1v-3.490c0-.55-.45-1-1-1-1.240 0-2.450-.2-3.570-.57-.1-.04-.21-.05-.31-.05-.26 0-.51.1-.71.29l-2.200 2.200c-2.830-1.450-5.150-3.760-6.590-6.590l2.200-2.200c.28-.28.36-.67.25-1.020C8.700 6.450 8.500 5.250 8.500 4c0-.55-.45-1-1-1z"/></svg><span>28</span><svg width="16" height="16" viewBox="0 0 24 24" style="margin:-1.500px 3.100px 0 2.300px;flex:none"><path fill="#b3b3b7" d="M4 4h16v12H5.170L4 17.170V4m0-2c-1.100 0-1.990.9-1.990 2L2 22l4-4h14c1.100 0 2-.9 2-2V4c0-1.100-.9-2-2-2H4zm2 10h12v2H6v-2zm0-3h12v2H6V9zm0-3h12v2H6V6z"/></svg><span>549 )</span></div>
<div class="a cr" style="right:1216.3px;top:1242.15px;height:20px;display:flex;align-items:center;white-space:pre;font-size:13px;line-height:20px;color:#b3b3b7;letter-spacing:-0.328px;word-spacing:.2px;-webkit-text-stroke:.25px #b3b3b7"><span>481 (</span><svg width="16" height="16" viewBox="0 0 24 24" style="margin:-1px 3px 0 3.300px;flex:none"><path fill="#b3b3b7" d="M6.540 5c.06.890.210 1.760.450 2.590l-1.200 1.200c-.410-1.200-.670-2.470-.760-3.790h1.510m9.860 12.020c.850.240 1.720.390 2.600.450v1.490c-1.320-.09-2.590-.350-3.800-.750l1.200-1.190M7.500 3H4c-.55 0-1 .45-1 1 0 9.390 7.610 17 17 17 .55 0 1-.45 1-1v-3.490c0-.55-.45-1-1-1-1.240 0-2.450-.2-3.570-.57-.1-.04-.21-.05-.31-.05-.26 0-.51.1-.71.29l-2.200 2.200c-2.830-1.450-5.150-3.760-6.590-6.590l2.200-2.200c.28-.28.36-.67.25-1.020C8.700 6.450 8.500 5.250 8.500 4c0-.55-.45-1-1-1z"/></svg><span>0</span><svg width="16" height="16" viewBox="0 0 24 24" style="margin:-1.500px 3.100px 0 2.300px;flex:none"><path fill="#b3b3b7" d="M4 4h16v12H5.170L4 17.170V4m0-2c-1.100 0-1.990.9-1.990 2L2 22l4-4h14c1.100 0 2-.9 2-2V4c0-1.100-.9-2-2-2H4zm2 10h12v2H6v-2zm0-3h12v2H6V9zm0-3h12v2H6V6z"/></svg><span>481 )</span></div>
<svg class="a" style="left:827.5px;top:1246.5px;" width="12" height="12" viewBox="0 0 12 12"><path d="M6 11C2.500 8 .5 6 .5 3.600.5 1.800 1.900.5 3.500.5c1 0 1.900.5 2.500 1.400C6.600 1 7.500.5 8.500.5c1.600 0 3 1.300 3 3.100C11.500 6 9.500 8 6 11z" fill="#e8173a"/></svg>
<svg class="a" style="left:0;top:0" width="2556" height="1385" viewBox="0 0 2556 1385"><path d="M1540.500 978.75H2444.500" stroke="#cfcfd2" stroke-width="1" stroke-dasharray="3 3" fill="none"/><path d="M1540.500 1036H2444.500" stroke="#cfcfd2" stroke-width="1" stroke-dasharray="3 3" fill="none"/><path d="M1540.500 1093.25H2444.500" stroke="#cfcfd2" stroke-width="1" stroke-dasharray="3 3" fill="none"/><path d="M1540.500 1150.5H2444.500" stroke="#cfcfd2" stroke-width="1" stroke-dasharray="3 3" fill="none"/><path d="M1540.500 1207.75H2444.500" stroke="#cfcfd2" stroke-width="1" stroke-dasharray="3 3" fill="none"/><rect x="1574.25" y="980.500" width="22.500" height="225.500" rx="3" fill="#a9c8e6"/><path d="M1585.50 1209v4.500" stroke="#707175" stroke-width="1"/><rect x="1664.58" y="980.500" width="22.500" height="225.500" rx="3" fill="#ffb77d"/><rect x="1754.91" y="980.500" width="22.500" height="225.500" rx="3" fill="#98df8f"/><path d="M1766.16 1209v4.500" stroke="#707175" stroke-width="1"/><rect x="1845.24" y="980.500" width="22.500" height="225.500" rx="3" fill="#ff9596"/><path d="M1856.49 1209v4.500" stroke="#707175" stroke-width="1"/><rect x="1935.57" y="980.500" width="22.500" height="225.500" rx="3" fill="#c7b1d6"/><path d="M1946.82 1209v4.500" stroke="#707175" stroke-width="1"/><rect x="2025.90" y="980.500" width="22.500" height="225.500" rx="3" fill="#c69c94"/><path d="M2037.15 1209v4.500" stroke="#707175" stroke-width="1"/><rect x="2116.23" y="980.500" width="22.500" height="225.500" rx="3" fill="#f8b5d3"/><path d="M2127.48 1209v4.500" stroke="#707175" stroke-width="1"/><rect x="2206.56" y="980.500" width="22.500" height="225.500" rx="3" fill="#c8c8c8"/><path d="M2217.81 1209v4.500" stroke="#707175" stroke-width="1"/><rect x="2296.89" y="980.500" width="22.500" height="215" rx="3" fill="#dede8e"/><rect x="2296.89" y="1198.700" width="22.500" height="8" rx="3" fill="#c8c13c"/><path d="M2308.14 1209v4.500" stroke="#707175" stroke-width="1"/><rect x="2387.22" y="980.500" width="22.500" height="225.500" rx="3" fill="#9edbe6"/><path d="M2398.47 1209v4.500" stroke="#707175" stroke-width="1"/></svg>
<span class="t" style="left:1527.77px;top:974.55px;font-size:8.5px;color:#6f7074;">1</span>
<span class="t" style="left:1515.95px;top:1031.80px;font-size:8.5px;color:#6f7074;">0.75</span>
<span class="t" style="left:1520.67px;top:1089.05px;font-size:8.5px;color:#6f7074;">0.5</span>
<span class="t" style="left:1515.95px;top:1146.30px;font-size:8.5px;color:#6f7074;">0.25</span>
<span class="t" style="left:1527.77px;top:1203.55px;font-size:8.5px;color:#6f7074;">0</span>
<span class="t" style="left:1575.58px;top:1214.82px;font-size:12.5px;color:#707175;-webkit-text-stroke:.25px #707175;letter-spacing:-0.349px;">Ps2</span>
<span class="t" style="left:1713.39px;top:1214.82px;font-size:12.5px;color:#707175;-webkit-text-stroke:.25px #707175;letter-spacing:0.276px;">546354687842411</span>
<span class="t" style="left:1842.79px;top:1214.82px;font-size:12.5px;color:#707175;-webkit-text-stroke:.25px #707175;letter-spacing:0.078px;">Rose</span>
<span class="t" style="left:1889.19px;top:1214.82px;font-size:12.5px;color:#707175;-webkit-text-stroke:.25px #707175;letter-spacing:0.881px;">645645645645645</span>
<span class="t" style="left:2018.68px;top:1214.82px;font-size:12.5px;color:#707175;-webkit-text-stroke:.25px #707175;letter-spacing:0.719px;">Jackie</span>
<span class="t" style="left:2088.07px;top:1214.82px;font-size:12.5px;color:#707175;-webkit-text-stroke:.25px #707175;letter-spacing:-0.353px;">MR JOHNSON</span>
<span class="t" style="left:2194.39px;top:1214.82px;font-size:12.5px;color:#707175;-webkit-text-stroke:.25px #707175;letter-spacing:0.777px;">azrpiiqp</span>
<span class="t" style="left:2289.98px;top:1214.82px;font-size:12.5px;color:#707175;-webkit-text-stroke:.25px #707175;letter-spacing:0.719px;">Jackie</span>
<span class="t" style="left:2350.30px;top:1214.82px;font-size:12.5px;color:#707175;-webkit-text-stroke:.25px #707175;letter-spacing:0.721px;">Noorainimraz</span>
<svg class="a" style="left:2435px;top:1215px;" width="12" height="12" viewBox="0 0 12 12"><path d="M6 11C2.500 8 .5 6 .5 3.600.5 1.800 1.900.5 3.500.5c1 0 1.900.5 2.500 1.400C6.600 1 7.500.5 8.500.5c1.600 0 3 1.300 3 3.100C11.500 6 9.500 8 6 11z" fill="#e8173a"/></svg>
<span class="t" style="left:1910.80px;top:1245.72px;font-size:12.5px;color:#fff;font-weight:700;letter-spacing:0.222px;">Calls</span>
<span class="t" style="left:1967.00px;top:1245.72px;font-size:12.5px;color:#fff;font-weight:700;letter-spacing:0.248px;">Messages</span>
</section>
</main>
</body></html>
